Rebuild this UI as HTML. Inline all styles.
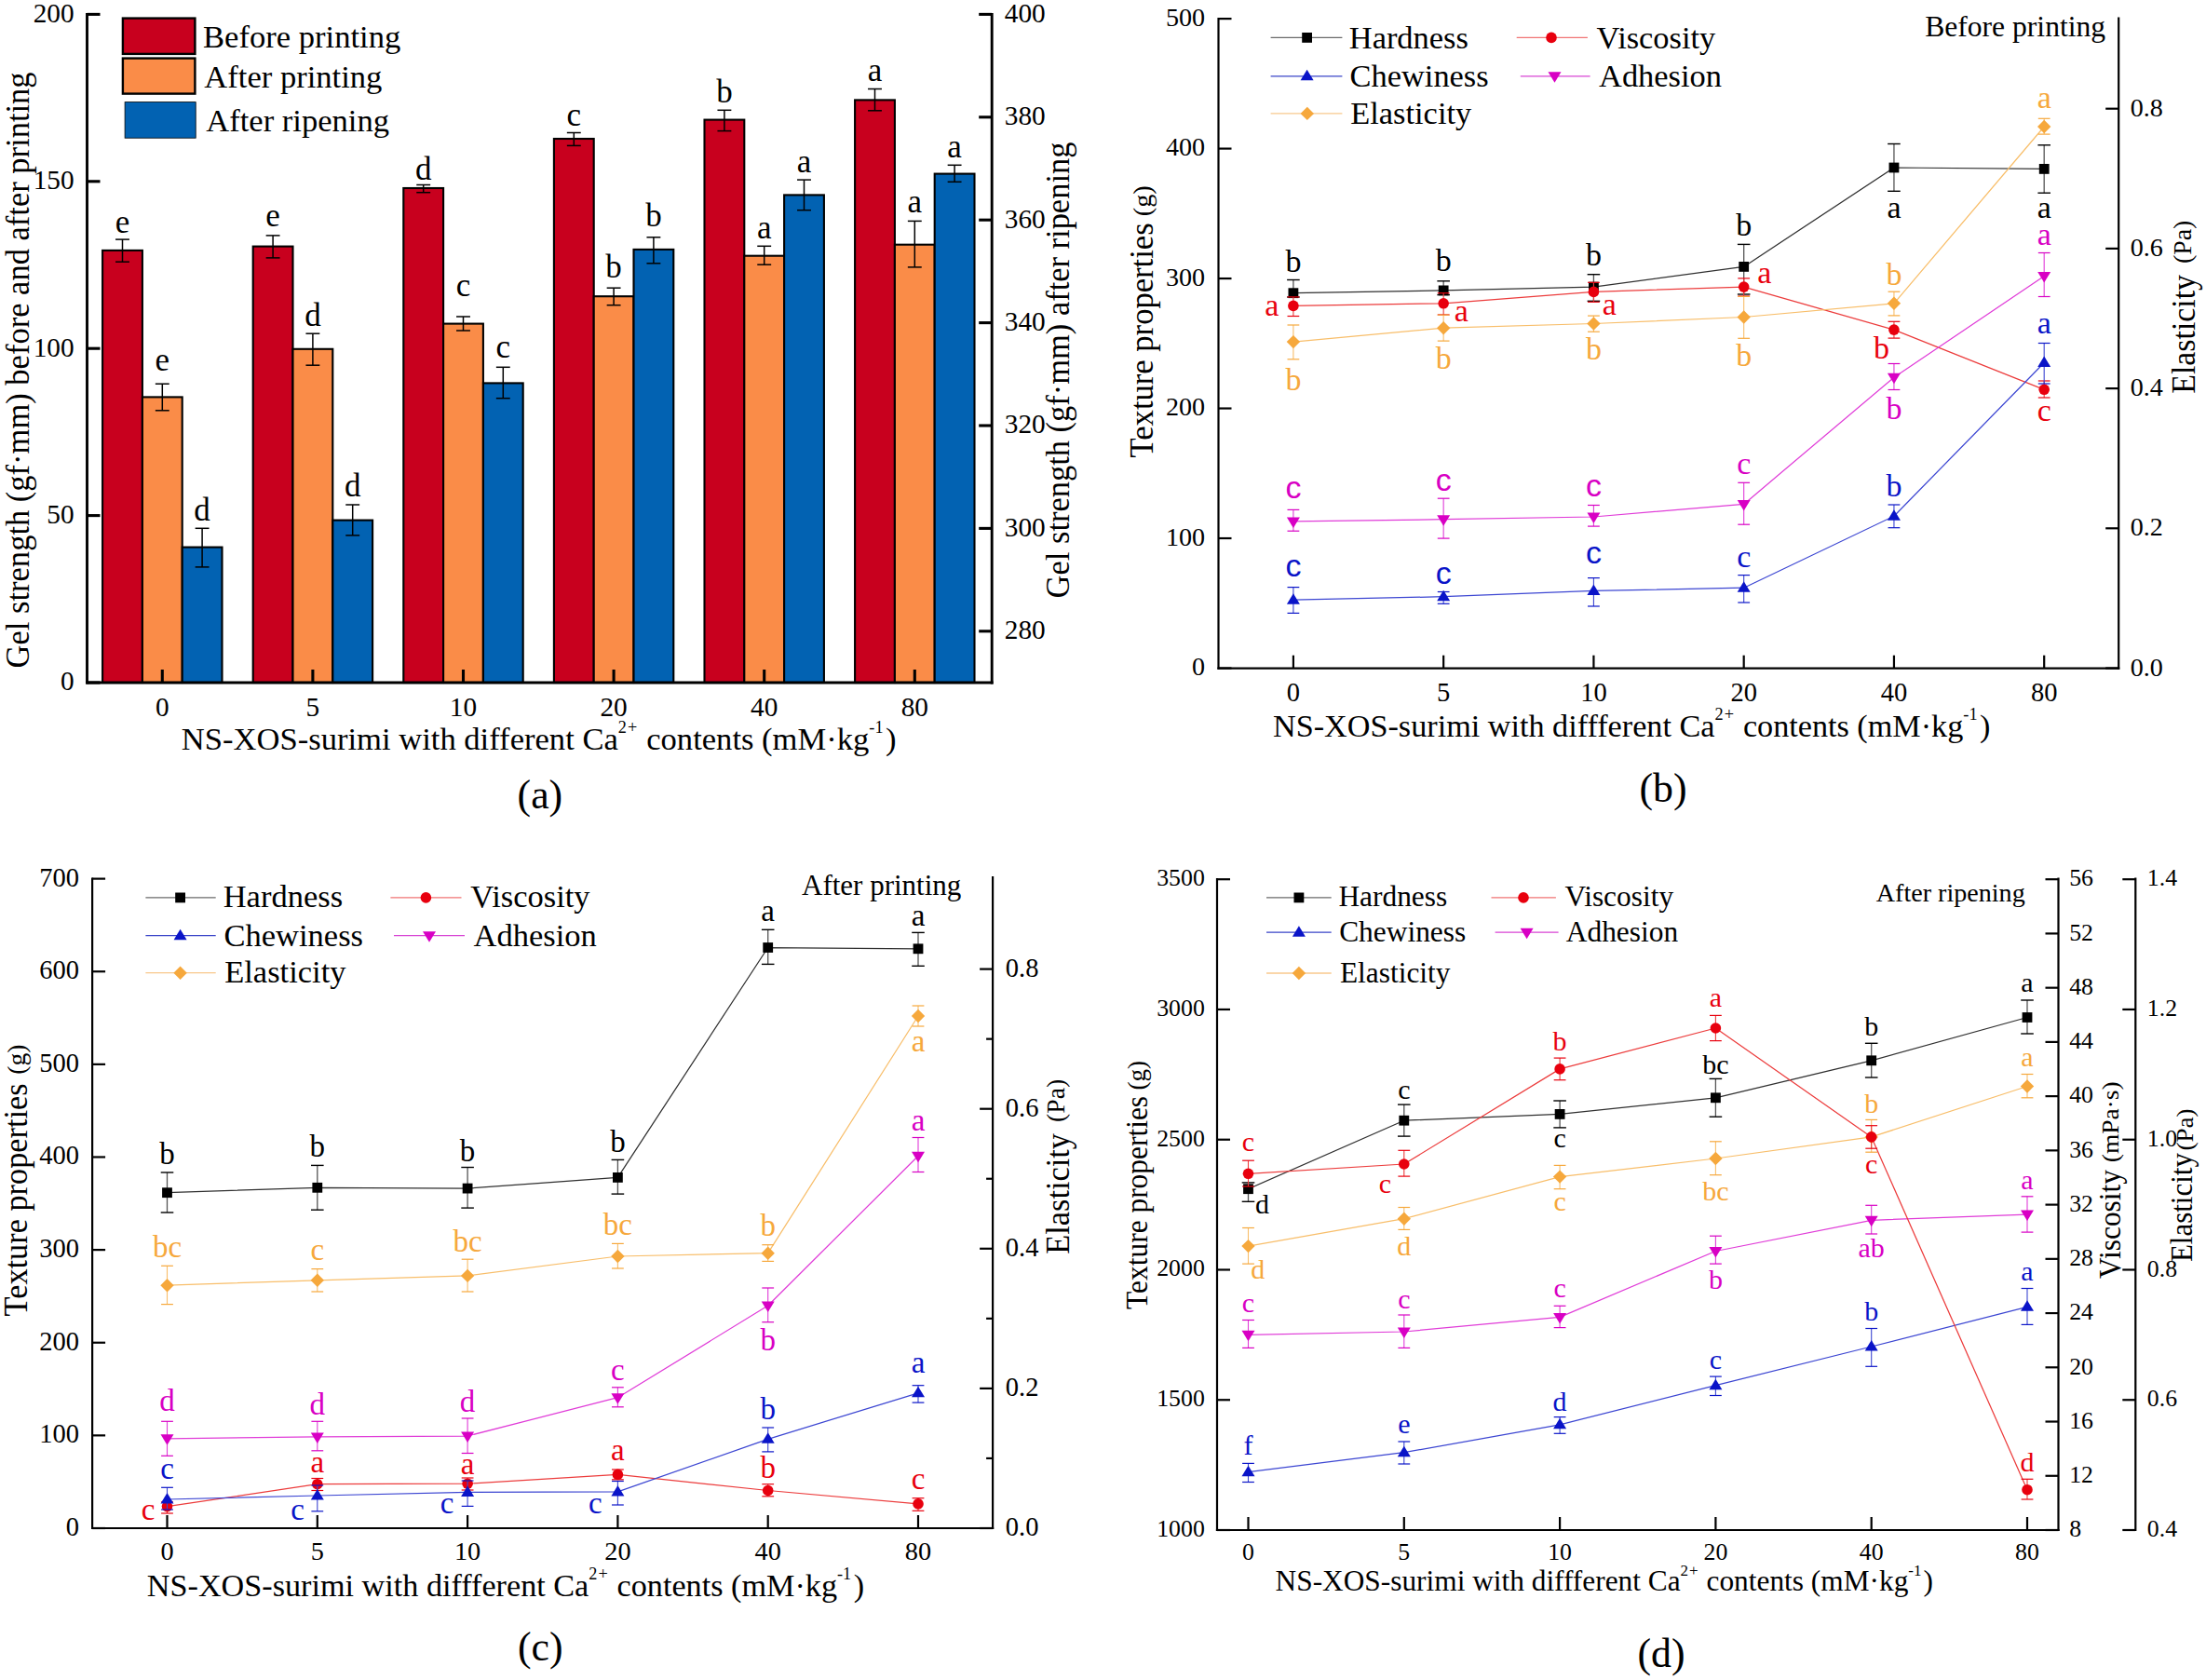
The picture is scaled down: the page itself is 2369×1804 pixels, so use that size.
<!DOCTYPE html>
<html><head><meta charset="utf-8"><title>Figure</title>
<style>html,body{margin:0;padding:0;background:#fff;overflow:hidden;} svg{display:block;}</style></head>
<body><svg xmlns="http://www.w3.org/2000/svg" width="2369" height="1804" viewBox="0 0 2369 1804">
<rect width="2369" height="1804" fill="#fff"/>
<rect x="110.1" y="268.9" width="42.8" height="464.1" fill="#C8001E" stroke="#000" stroke-width="2.1"/>
<rect x="152.9" y="426.4" width="42.8" height="306.6" fill="#FA8C48" stroke="#000" stroke-width="2.1"/>
<rect x="195.7" y="587.6" width="42.8" height="145.4" fill="#0262B2" stroke="#000" stroke-width="2.1"/>
<rect x="271.7" y="264.6" width="42.8" height="468.4" fill="#C8001E" stroke="#000" stroke-width="2.1"/>
<rect x="314.5" y="374.8" width="42.8" height="358.2" fill="#FA8C48" stroke="#000" stroke-width="2.1"/>
<rect x="357.3" y="558.6" width="42.8" height="174.4" fill="#0262B2" stroke="#000" stroke-width="2.1"/>
<rect x="433.3" y="202" width="42.8" height="531" fill="#C8001E" stroke="#000" stroke-width="2.1"/>
<rect x="476.1" y="347.6" width="42.8" height="385.4" fill="#FA8C48" stroke="#000" stroke-width="2.1"/>
<rect x="518.9" y="411.4" width="42.8" height="321.6" fill="#0262B2" stroke="#000" stroke-width="2.1"/>
<rect x="594.9" y="149" width="42.8" height="584" fill="#C8001E" stroke="#000" stroke-width="2.1"/>
<rect x="637.7" y="318.2" width="42.8" height="414.8" fill="#FA8C48" stroke="#000" stroke-width="2.1"/>
<rect x="680.5" y="267.9" width="42.8" height="465.1" fill="#0262B2" stroke="#000" stroke-width="2.1"/>
<rect x="756.5" y="128.6" width="42.8" height="604.4" fill="#C8001E" stroke="#000" stroke-width="2.1"/>
<rect x="799.3" y="274.7" width="42.8" height="458.3" fill="#FA8C48" stroke="#000" stroke-width="2.1"/>
<rect x="842.1" y="209.4" width="42.8" height="523.6" fill="#0262B2" stroke="#000" stroke-width="2.1"/>
<rect x="918.1" y="107.4" width="42.8" height="625.6" fill="#C8001E" stroke="#000" stroke-width="2.1"/>
<rect x="960.9" y="262.7" width="42.8" height="470.3" fill="#FA8C48" stroke="#000" stroke-width="2.1"/>
<rect x="1003.7" y="186.6" width="42.8" height="546.4" fill="#0262B2" stroke="#000" stroke-width="2.1"/>
<line x1="131.5" y1="257.1" x2="131.5" y2="281.2" stroke="#000" stroke-width="1.5"/>
<line x1="124.05" y1="257.1" x2="138.95" y2="257.1" stroke="#000" stroke-width="1.5"/>
<line x1="124.05" y1="281.2" x2="138.95" y2="281.2" stroke="#000" stroke-width="1.5"/>
<text x="131.5" y="250.1" font-size="35" text-anchor="middle" fill="#000" font-family="Liberation Serif">e</text>
<line x1="174.3" y1="412.2" x2="174.3" y2="440.8" stroke="#000" stroke-width="1.5"/>
<line x1="166.85" y1="412.2" x2="181.75" y2="412.2" stroke="#000" stroke-width="1.5"/>
<line x1="166.85" y1="440.8" x2="181.75" y2="440.8" stroke="#000" stroke-width="1.5"/>
<text x="174.3" y="397.6" font-size="35" text-anchor="middle" fill="#000" font-family="Liberation Serif">e</text>
<line x1="217.1" y1="567.3" x2="217.1" y2="608.9" stroke="#000" stroke-width="1.5"/>
<line x1="209.65" y1="567.3" x2="224.55" y2="567.3" stroke="#000" stroke-width="1.5"/>
<line x1="209.65" y1="608.9" x2="224.55" y2="608.9" stroke="#000" stroke-width="1.5"/>
<text x="217.1" y="559.1" font-size="35" text-anchor="middle" fill="#000" font-family="Liberation Serif">d</text>
<line x1="174.3" y1="733" x2="174.3" y2="719" stroke="#000" stroke-width="3.1"/>
<text x="174.3" y="768.6" font-size="29.3" text-anchor="middle" fill="#000" font-family="Liberation Serif">0</text>
<line x1="293.1" y1="252.9" x2="293.1" y2="276.9" stroke="#000" stroke-width="1.5"/>
<line x1="285.65" y1="252.9" x2="300.55" y2="252.9" stroke="#000" stroke-width="1.5"/>
<line x1="285.65" y1="276.9" x2="300.55" y2="276.9" stroke="#000" stroke-width="1.5"/>
<text x="293.1" y="242.9" font-size="35" text-anchor="middle" fill="#000" font-family="Liberation Serif">e</text>
<line x1="335.9" y1="358.2" x2="335.9" y2="392.2" stroke="#000" stroke-width="1.5"/>
<line x1="328.45" y1="358.2" x2="343.35" y2="358.2" stroke="#000" stroke-width="1.5"/>
<line x1="328.45" y1="392.2" x2="343.35" y2="392.2" stroke="#000" stroke-width="1.5"/>
<text x="335.9" y="350.3" font-size="35" text-anchor="middle" fill="#000" font-family="Liberation Serif">d</text>
<line x1="378.7" y1="542" x2="378.7" y2="574.9" stroke="#000" stroke-width="1.5"/>
<line x1="371.25" y1="542" x2="386.15" y2="542" stroke="#000" stroke-width="1.5"/>
<line x1="371.25" y1="574.9" x2="386.15" y2="574.9" stroke="#000" stroke-width="1.5"/>
<text x="378.7" y="532.7" font-size="35" text-anchor="middle" fill="#000" font-family="Liberation Serif">d</text>
<line x1="335.9" y1="733" x2="335.9" y2="719" stroke="#000" stroke-width="3.1"/>
<text x="335.9" y="768.6" font-size="29.3" text-anchor="middle" fill="#000" font-family="Liberation Serif">5</text>
<line x1="454.7" y1="198.5" x2="454.7" y2="206.7" stroke="#000" stroke-width="1.5"/>
<line x1="447.25" y1="198.5" x2="462.15" y2="198.5" stroke="#000" stroke-width="1.5"/>
<line x1="447.25" y1="206.7" x2="462.15" y2="206.7" stroke="#000" stroke-width="1.5"/>
<text x="454.7" y="192.5" font-size="35" text-anchor="middle" fill="#000" font-family="Liberation Serif">d</text>
<line x1="497.5" y1="340" x2="497.5" y2="355" stroke="#000" stroke-width="1.5"/>
<line x1="490.05" y1="340" x2="504.95" y2="340" stroke="#000" stroke-width="1.5"/>
<line x1="490.05" y1="355" x2="504.95" y2="355" stroke="#000" stroke-width="1.5"/>
<text x="497.5" y="318.2" font-size="35" text-anchor="middle" fill="#000" font-family="Liberation Serif">c</text>
<line x1="540.3" y1="394.3" x2="540.3" y2="427.7" stroke="#000" stroke-width="1.5"/>
<line x1="532.85" y1="394.3" x2="547.75" y2="394.3" stroke="#000" stroke-width="1.5"/>
<line x1="532.85" y1="427.7" x2="547.75" y2="427.7" stroke="#000" stroke-width="1.5"/>
<text x="540.3" y="383.5" font-size="35" text-anchor="middle" fill="#000" font-family="Liberation Serif">c</text>
<line x1="497.5" y1="733" x2="497.5" y2="719" stroke="#000" stroke-width="3.1"/>
<text x="497.5" y="768.6" font-size="29.3" text-anchor="middle" fill="#000" font-family="Liberation Serif">10</text>
<line x1="616.3" y1="142.5" x2="616.3" y2="156.4" stroke="#000" stroke-width="1.5"/>
<line x1="608.85" y1="142.5" x2="623.75" y2="142.5" stroke="#000" stroke-width="1.5"/>
<line x1="608.85" y1="156.4" x2="623.75" y2="156.4" stroke="#000" stroke-width="1.5"/>
<text x="616.3" y="134.6" font-size="35" text-anchor="middle" fill="#000" font-family="Liberation Serif">c</text>
<line x1="659.1" y1="309.2" x2="659.1" y2="327.7" stroke="#000" stroke-width="1.5"/>
<line x1="651.65" y1="309.2" x2="666.55" y2="309.2" stroke="#000" stroke-width="1.5"/>
<line x1="651.65" y1="327.7" x2="666.55" y2="327.7" stroke="#000" stroke-width="1.5"/>
<text x="659.1" y="297.8" font-size="35" text-anchor="middle" fill="#000" font-family="Liberation Serif">b</text>
<line x1="701.9" y1="254.8" x2="701.9" y2="282.8" stroke="#000" stroke-width="1.5"/>
<line x1="694.45" y1="254.8" x2="709.35" y2="254.8" stroke="#000" stroke-width="1.5"/>
<line x1="694.45" y1="282.8" x2="709.35" y2="282.8" stroke="#000" stroke-width="1.5"/>
<text x="701.9" y="243.4" font-size="35" text-anchor="middle" fill="#000" font-family="Liberation Serif">b</text>
<line x1="659.1" y1="733" x2="659.1" y2="719" stroke="#000" stroke-width="3.1"/>
<text x="659.1" y="768.6" font-size="29.3" text-anchor="middle" fill="#000" font-family="Liberation Serif">20</text>
<line x1="777.9" y1="118.3" x2="777.9" y2="140.6" stroke="#000" stroke-width="1.5"/>
<line x1="770.45" y1="118.3" x2="785.35" y2="118.3" stroke="#000" stroke-width="1.5"/>
<line x1="770.45" y1="140.6" x2="785.35" y2="140.6" stroke="#000" stroke-width="1.5"/>
<text x="777.9" y="110.1" font-size="35" text-anchor="middle" fill="#000" font-family="Liberation Serif">b</text>
<line x1="820.7" y1="264.3" x2="820.7" y2="284.2" stroke="#000" stroke-width="1.5"/>
<line x1="813.25" y1="264.3" x2="828.15" y2="264.3" stroke="#000" stroke-width="1.5"/>
<line x1="813.25" y1="284.2" x2="828.15" y2="284.2" stroke="#000" stroke-width="1.5"/>
<text x="820.7" y="255.6" font-size="35" text-anchor="middle" fill="#000" font-family="Liberation Serif">a</text>
<line x1="863.5" y1="193.1" x2="863.5" y2="225.7" stroke="#000" stroke-width="1.5"/>
<line x1="856.05" y1="193.1" x2="870.95" y2="193.1" stroke="#000" stroke-width="1.5"/>
<line x1="856.05" y1="225.7" x2="870.95" y2="225.7" stroke="#000" stroke-width="1.5"/>
<text x="863.5" y="184.9" font-size="35" text-anchor="middle" fill="#000" font-family="Liberation Serif">a</text>
<line x1="820.7" y1="733" x2="820.7" y2="719" stroke="#000" stroke-width="3.1"/>
<text x="820.7" y="768.6" font-size="29.3" text-anchor="middle" fill="#000" font-family="Liberation Serif">40</text>
<line x1="939.5" y1="95.5" x2="939.5" y2="118.8" stroke="#000" stroke-width="1.5"/>
<line x1="932.05" y1="95.5" x2="946.95" y2="95.5" stroke="#000" stroke-width="1.5"/>
<line x1="932.05" y1="118.8" x2="946.95" y2="118.8" stroke="#000" stroke-width="1.5"/>
<text x="939.5" y="87" font-size="35" text-anchor="middle" fill="#000" font-family="Liberation Serif">a</text>
<line x1="982.3" y1="237.4" x2="982.3" y2="286.9" stroke="#000" stroke-width="1.5"/>
<line x1="974.85" y1="237.4" x2="989.75" y2="237.4" stroke="#000" stroke-width="1.5"/>
<line x1="974.85" y1="286.9" x2="989.75" y2="286.9" stroke="#000" stroke-width="1.5"/>
<text x="982.3" y="227.9" font-size="35" text-anchor="middle" fill="#000" font-family="Liberation Serif">a</text>
<line x1="1025.1" y1="177.3" x2="1025.1" y2="195.3" stroke="#000" stroke-width="1.5"/>
<line x1="1017.65" y1="177.3" x2="1032.55" y2="177.3" stroke="#000" stroke-width="1.5"/>
<line x1="1017.65" y1="195.3" x2="1032.55" y2="195.3" stroke="#000" stroke-width="1.5"/>
<text x="1025.1" y="168.6" font-size="35" text-anchor="middle" fill="#000" font-family="Liberation Serif">a</text>
<line x1="982.3" y1="733" x2="982.3" y2="719" stroke="#000" stroke-width="3.1"/>
<text x="982.3" y="768.6" font-size="29.3" text-anchor="middle" fill="#000" font-family="Liberation Serif">80</text>
<line x1="93.5" y1="14" x2="93.5" y2="734.5" stroke="#000" stroke-width="2.9"/>
<line x1="1065.2" y1="14" x2="1065.2" y2="734.5" stroke="#000" stroke-width="2.9"/>
<line x1="92.1" y1="733" x2="1066.6" y2="733" stroke="#000" stroke-width="2.8"/>
<line x1="93.5" y1="733" x2="107.5" y2="733" stroke="#000" stroke-width="3.1"/>
<text x="79.6" y="741.3" font-size="29.3" text-anchor="end" fill="#000" font-family="Liberation Serif">0</text>
<line x1="93.5" y1="553.6" x2="107.5" y2="553.6" stroke="#000" stroke-width="3.1"/>
<text x="79.6" y="561.9" font-size="29.3" text-anchor="end" fill="#000" font-family="Liberation Serif">50</text>
<line x1="93.5" y1="374.2" x2="107.5" y2="374.2" stroke="#000" stroke-width="3.1"/>
<text x="79.6" y="382.5" font-size="29.3" text-anchor="end" fill="#000" font-family="Liberation Serif">100</text>
<line x1="93.5" y1="194.8" x2="107.5" y2="194.8" stroke="#000" stroke-width="3.1"/>
<text x="79.6" y="203.1" font-size="29.3" text-anchor="end" fill="#000" font-family="Liberation Serif">150</text>
<line x1="93.5" y1="15.4" x2="107.5" y2="15.4" stroke="#000" stroke-width="3.1"/>
<text x="79.6" y="23.7" font-size="29.3" text-anchor="end" fill="#000" font-family="Liberation Serif">200</text>
<line x1="1051.2" y1="677.8" x2="1065.2" y2="677.8" stroke="#000" stroke-width="3.1"/>
<text x="1078.8" y="686.1" font-size="29.3" text-anchor="start" fill="#000" font-family="Liberation Serif">280</text>
<line x1="1051.2" y1="567.4" x2="1065.2" y2="567.4" stroke="#000" stroke-width="3.1"/>
<text x="1078.8" y="575.7" font-size="29.3" text-anchor="start" fill="#000" font-family="Liberation Serif">300</text>
<line x1="1051.2" y1="457" x2="1065.2" y2="457" stroke="#000" stroke-width="3.1"/>
<text x="1078.8" y="465.3" font-size="29.3" text-anchor="start" fill="#000" font-family="Liberation Serif">320</text>
<line x1="1051.2" y1="346.6" x2="1065.2" y2="346.6" stroke="#000" stroke-width="3.1"/>
<text x="1078.8" y="354.9" font-size="29.3" text-anchor="start" fill="#000" font-family="Liberation Serif">340</text>
<line x1="1051.2" y1="236.2" x2="1065.2" y2="236.2" stroke="#000" stroke-width="3.1"/>
<text x="1078.8" y="244.5" font-size="29.3" text-anchor="start" fill="#000" font-family="Liberation Serif">360</text>
<line x1="1051.2" y1="125.8" x2="1065.2" y2="125.8" stroke="#000" stroke-width="3.1"/>
<text x="1078.8" y="134.1" font-size="29.3" text-anchor="start" fill="#000" font-family="Liberation Serif">380</text>
<line x1="1051.2" y1="15.4" x2="1065.2" y2="15.4" stroke="#000" stroke-width="3.1"/>
<text x="1078.8" y="23.7" font-size="29.3" text-anchor="start" fill="#000" font-family="Liberation Serif">400</text>
<rect x="131.9" y="19.6" width="77.5" height="38.3" fill="#C8001E" stroke="#000" stroke-width="2.4"/>
<rect x="131.9" y="62.6" width="77.5" height="38" fill="#FA8C48" stroke="#000" stroke-width="2.4"/>
<rect x="134.1" y="109.6" width="76.1" height="38.6" fill="#0262B2" stroke="#000" stroke-width="0.8"/>
<text x="218" y="51.1" font-size="34.6" text-anchor="start" fill="#000" font-family="Liberation Serif">Before printing</text>
<text x="219.3" y="93.8" font-size="34.6" text-anchor="start" fill="#000" font-family="Liberation Serif">After printing</text>
<text x="221.2" y="140.9" font-size="34.6" text-anchor="start" fill="#000" font-family="Liberation Serif">After ripening</text>
<text transform="translate(30.5,717.38) rotate(-90) scale(0.9721,1)" x="0" y="0" font-family="Liberation Serif" font-size="35.5" fill="#000">Gel strength (gf·mm) before and after printing</text>
<text transform="translate(1147.8,642.38) rotate(-90) scale(0.9710,1)" x="0" y="0" font-family="Liberation Serif" font-size="35.5" fill="#000">Gel strength (gf·mm) after ripening</text>
<text x="194.8" y="804.8" font-size="34.6" fill="#000" font-family="Liberation Serif">NS-XOS-surimi with different Ca<tspan font-size="18.2" dy="-17.5" letter-spacing="1.2">2+</tspan><tspan dy="17.5"> contents (mM·kg</tspan><tspan font-size="18.2" dy="-17.5">-1</tspan><tspan dy="17.5" dx="2.5">)</tspan></text>
<text x="579.9" y="867.8" font-size="43.8" text-anchor="middle" fill="#000" font-family="Liberation Serif">(a)</text>
<polyline points="1388.9,314.7 1550.16,311.9 1711.42,308.1 1872.68,286.4 2033.94,180 2195.2,181.4" fill="none" stroke="#303030" stroke-width="1.25" stroke-linejoin="round"/>
<line x1="1388.9" y1="300.5" x2="1388.9" y2="319" stroke="#555" stroke-width="1.3"/>
<line x1="1382.1" y1="300.5" x2="1395.7" y2="300.5" stroke="#000" stroke-width="1.4"/>
<line x1="1382.1" y1="319" x2="1395.7" y2="319" stroke="#000" stroke-width="1.4"/>
<line x1="1550.16" y1="301.8" x2="1550.16" y2="316.6" stroke="#555" stroke-width="1.3"/>
<line x1="1543.36" y1="301.8" x2="1556.96" y2="301.8" stroke="#000" stroke-width="1.4"/>
<line x1="1543.36" y1="316.6" x2="1556.96" y2="316.6" stroke="#000" stroke-width="1.4"/>
<line x1="1711.42" y1="294.7" x2="1711.42" y2="323.3" stroke="#555" stroke-width="1.3"/>
<line x1="1704.62" y1="294.7" x2="1718.22" y2="294.7" stroke="#000" stroke-width="1.4"/>
<line x1="1704.62" y1="323.3" x2="1718.22" y2="323.3" stroke="#000" stroke-width="1.4"/>
<line x1="1872.68" y1="262.4" x2="1872.68" y2="316" stroke="#555" stroke-width="1.3"/>
<line x1="1865.88" y1="262.4" x2="1879.48" y2="262.4" stroke="#000" stroke-width="1.4"/>
<line x1="1865.88" y1="316" x2="1879.48" y2="316" stroke="#000" stroke-width="1.4"/>
<line x1="2033.94" y1="154.5" x2="2033.94" y2="205.3" stroke="#555" stroke-width="1.3"/>
<line x1="2027.14" y1="154.5" x2="2040.74" y2="154.5" stroke="#000" stroke-width="1.4"/>
<line x1="2027.14" y1="205.3" x2="2040.74" y2="205.3" stroke="#000" stroke-width="1.4"/>
<line x1="2195.2" y1="155.8" x2="2195.2" y2="207.2" stroke="#555" stroke-width="1.3"/>
<line x1="2188.4" y1="155.8" x2="2202" y2="155.8" stroke="#000" stroke-width="1.4"/>
<line x1="2188.4" y1="207.2" x2="2202" y2="207.2" stroke="#000" stroke-width="1.4"/>
<rect x="1383.5" y="309.3" width="10.8" height="10.8" fill="#000000"/>
<rect x="1544.76" y="306.5" width="10.8" height="10.8" fill="#000000"/>
<rect x="1706.02" y="302.7" width="10.8" height="10.8" fill="#000000"/>
<rect x="1867.28" y="281" width="10.8" height="10.8" fill="#000000"/>
<rect x="2028.54" y="174.6" width="10.8" height="10.8" fill="#000000"/>
<rect x="2189.8" y="176" width="10.8" height="10.8" fill="#000000"/>
<polyline points="1388.9,328.4 1550.16,325.8 1711.42,313.4 1872.68,308.1 2033.94,354.1 2195.2,418.3" fill="none" stroke="#EC3C3C" stroke-width="1.25" stroke-linejoin="round"/>
<line x1="1388.9" y1="318.9" x2="1388.9" y2="339.5" stroke="#EC3C3C" stroke-width="1.1"/>
<line x1="1382.5" y1="318.9" x2="1395.3" y2="318.9" stroke="#E8000E" stroke-width="1.2"/>
<line x1="1382.5" y1="339.5" x2="1395.3" y2="339.5" stroke="#E8000E" stroke-width="1.2"/>
<line x1="1550.16" y1="314.7" x2="1550.16" y2="338" stroke="#EC3C3C" stroke-width="1.1"/>
<line x1="1543.76" y1="314.7" x2="1556.56" y2="314.7" stroke="#E8000E" stroke-width="1.2"/>
<line x1="1543.76" y1="338" x2="1556.56" y2="338" stroke="#E8000E" stroke-width="1.2"/>
<line x1="1711.42" y1="303.3" x2="1711.42" y2="324.3" stroke="#EC3C3C" stroke-width="1.1"/>
<line x1="1705.02" y1="303.3" x2="1717.82" y2="303.3" stroke="#E8000E" stroke-width="1.2"/>
<line x1="1705.02" y1="324.3" x2="1717.82" y2="324.3" stroke="#E8000E" stroke-width="1.2"/>
<line x1="1872.68" y1="298.9" x2="1872.68" y2="318" stroke="#EC3C3C" stroke-width="1.1"/>
<line x1="1866.28" y1="298.9" x2="1879.08" y2="298.9" stroke="#E8000E" stroke-width="1.2"/>
<line x1="1866.28" y1="318" x2="1879.08" y2="318" stroke="#E8000E" stroke-width="1.2"/>
<line x1="2033.94" y1="345.3" x2="2033.94" y2="363.1" stroke="#EC3C3C" stroke-width="1.1"/>
<line x1="2027.54" y1="345.3" x2="2040.34" y2="345.3" stroke="#E8000E" stroke-width="1.2"/>
<line x1="2027.54" y1="363.1" x2="2040.34" y2="363.1" stroke="#E8000E" stroke-width="1.2"/>
<line x1="2195.2" y1="409" x2="2195.2" y2="427" stroke="#EC3C3C" stroke-width="1.1"/>
<line x1="2188.8" y1="409" x2="2201.6" y2="409" stroke="#E8000E" stroke-width="1.2"/>
<line x1="2188.8" y1="427" x2="2201.6" y2="427" stroke="#E8000E" stroke-width="1.2"/>
<circle cx="1388.9" cy="328.4" r="5.8" fill="#E8000E"/>
<circle cx="1550.16" cy="325.8" r="5.8" fill="#E8000E"/>
<circle cx="1711.42" cy="313.4" r="5.8" fill="#E8000E"/>
<circle cx="1872.68" cy="308.1" r="5.8" fill="#E8000E"/>
<circle cx="2033.94" cy="354.1" r="5.8" fill="#E8000E"/>
<circle cx="2195.2" cy="418.3" r="5.8" fill="#E8000E"/>
<polyline points="1388.9,644.2 1550.16,640.7 1711.42,634.4 1872.68,631.2 2033.94,554.2 2195.2,389.5" fill="none" stroke="#3C46D2" stroke-width="1.25" stroke-linejoin="round"/>
<line x1="1388.9" y1="630.6" x2="1388.9" y2="658.4" stroke="#3C46D2" stroke-width="1.1"/>
<line x1="1382.5" y1="630.6" x2="1395.3" y2="630.6" stroke="#0A14C8" stroke-width="1.2"/>
<line x1="1382.5" y1="658.4" x2="1395.3" y2="658.4" stroke="#0A14C8" stroke-width="1.2"/>
<line x1="1550.16" y1="635.5" x2="1550.16" y2="648.3" stroke="#3C46D2" stroke-width="1.1"/>
<line x1="1543.76" y1="635.5" x2="1556.56" y2="635.5" stroke="#0A14C8" stroke-width="1.2"/>
<line x1="1543.76" y1="648.3" x2="1556.56" y2="648.3" stroke="#0A14C8" stroke-width="1.2"/>
<line x1="1711.42" y1="620.6" x2="1711.42" y2="651" stroke="#3C46D2" stroke-width="1.1"/>
<line x1="1705.02" y1="620.6" x2="1717.82" y2="620.6" stroke="#0A14C8" stroke-width="1.2"/>
<line x1="1705.02" y1="651" x2="1717.82" y2="651" stroke="#0A14C8" stroke-width="1.2"/>
<line x1="1872.68" y1="617.6" x2="1872.68" y2="647" stroke="#3C46D2" stroke-width="1.1"/>
<line x1="1866.28" y1="617.6" x2="1879.08" y2="617.6" stroke="#0A14C8" stroke-width="1.2"/>
<line x1="1866.28" y1="647" x2="1879.08" y2="647" stroke="#0A14C8" stroke-width="1.2"/>
<line x1="2033.94" y1="542" x2="2033.94" y2="566.7" stroke="#3C46D2" stroke-width="1.1"/>
<line x1="2027.54" y1="542" x2="2040.34" y2="542" stroke="#0A14C8" stroke-width="1.2"/>
<line x1="2027.54" y1="566.7" x2="2040.34" y2="566.7" stroke="#0A14C8" stroke-width="1.2"/>
<line x1="2195.2" y1="368.5" x2="2195.2" y2="412" stroke="#3C46D2" stroke-width="1.1"/>
<line x1="2188.8" y1="368.5" x2="2201.6" y2="368.5" stroke="#0A14C8" stroke-width="1.2"/>
<line x1="2188.8" y1="412" x2="2201.6" y2="412" stroke="#0A14C8" stroke-width="1.2"/>
<polygon points="1381.9,648.68 1395.9,648.68 1388.9,637.2" fill="#0A14C8"/>
<polygon points="1543.16,645.18 1557.16,645.18 1550.16,633.7" fill="#0A14C8"/>
<polygon points="1704.42,638.88 1718.42,638.88 1711.42,627.4" fill="#0A14C8"/>
<polygon points="1865.68,635.68 1879.68,635.68 1872.68,624.2" fill="#0A14C8"/>
<polygon points="2026.94,558.68 2040.94,558.68 2033.94,547.2" fill="#0A14C8"/>
<polygon points="2188.2,393.98 2202.2,393.98 2195.2,382.5" fill="#0A14C8"/>
<polyline points="1388.9,559.9 1550.16,557.7 1711.42,555 1872.68,541.4 2033.94,405.2 2195.2,296.4" fill="none" stroke="#E03CD8" stroke-width="1.25" stroke-linejoin="round"/>
<line x1="1388.9" y1="547.4" x2="1388.9" y2="570.2" stroke="#E03CD8" stroke-width="1.1"/>
<line x1="1382.5" y1="547.4" x2="1395.3" y2="547.4" stroke="#D800C4" stroke-width="1.2"/>
<line x1="1382.5" y1="570.2" x2="1395.3" y2="570.2" stroke="#D800C4" stroke-width="1.2"/>
<line x1="1550.16" y1="535.2" x2="1550.16" y2="578.1" stroke="#E03CD8" stroke-width="1.1"/>
<line x1="1543.76" y1="535.2" x2="1556.56" y2="535.2" stroke="#D800C4" stroke-width="1.2"/>
<line x1="1543.76" y1="578.1" x2="1556.56" y2="578.1" stroke="#D800C4" stroke-width="1.2"/>
<line x1="1711.42" y1="542.5" x2="1711.42" y2="565.1" stroke="#E03CD8" stroke-width="1.1"/>
<line x1="1705.02" y1="542.5" x2="1717.82" y2="542.5" stroke="#D800C4" stroke-width="1.2"/>
<line x1="1705.02" y1="565.1" x2="1717.82" y2="565.1" stroke="#D800C4" stroke-width="1.2"/>
<line x1="1872.68" y1="518.3" x2="1872.68" y2="563.2" stroke="#E03CD8" stroke-width="1.1"/>
<line x1="1866.28" y1="518.3" x2="1879.08" y2="518.3" stroke="#D800C4" stroke-width="1.2"/>
<line x1="1866.28" y1="563.2" x2="1879.08" y2="563.2" stroke="#D800C4" stroke-width="1.2"/>
<line x1="2033.94" y1="390.5" x2="2033.94" y2="418.5" stroke="#E03CD8" stroke-width="1.1"/>
<line x1="2027.54" y1="390.5" x2="2040.34" y2="390.5" stroke="#D800C4" stroke-width="1.2"/>
<line x1="2027.54" y1="418.5" x2="2040.34" y2="418.5" stroke="#D800C4" stroke-width="1.2"/>
<line x1="2195.2" y1="271.5" x2="2195.2" y2="318.5" stroke="#E03CD8" stroke-width="1.1"/>
<line x1="2188.8" y1="271.5" x2="2201.6" y2="271.5" stroke="#D800C4" stroke-width="1.2"/>
<line x1="2188.8" y1="318.5" x2="2201.6" y2="318.5" stroke="#D800C4" stroke-width="1.2"/>
<polygon points="1381.9,555.42 1395.9,555.42 1388.9,566.9" fill="#D800C4"/>
<polygon points="1543.16,553.22 1557.16,553.22 1550.16,564.7" fill="#D800C4"/>
<polygon points="1704.42,550.52 1718.42,550.52 1711.42,562" fill="#D800C4"/>
<polygon points="1865.68,536.92 1879.68,536.92 1872.68,548.4" fill="#D800C4"/>
<polygon points="2026.94,400.72 2040.94,400.72 2033.94,412.2" fill="#D800C4"/>
<polygon points="2188.2,291.92 2202.2,291.92 2195.2,303.4" fill="#D800C4"/>
<polyline points="1388.9,367.1 1550.16,352.2 1711.42,347.5 1872.68,340.5 2033.94,325.8 2195.2,136" fill="none" stroke="#F8BE6A" stroke-width="1.25" stroke-linejoin="round"/>
<line x1="1388.9" y1="349" x2="1388.9" y2="385.8" stroke="#F8BE6A" stroke-width="1.1"/>
<line x1="1382.5" y1="349" x2="1395.3" y2="349" stroke="#F6A83C" stroke-width="1.2"/>
<line x1="1382.5" y1="385.8" x2="1395.3" y2="385.8" stroke="#F6A83C" stroke-width="1.2"/>
<line x1="1550.16" y1="338.2" x2="1550.16" y2="366.1" stroke="#F8BE6A" stroke-width="1.1"/>
<line x1="1543.76" y1="338.2" x2="1556.56" y2="338.2" stroke="#F6A83C" stroke-width="1.2"/>
<line x1="1543.76" y1="366.1" x2="1556.56" y2="366.1" stroke="#F6A83C" stroke-width="1.2"/>
<line x1="1711.42" y1="339.1" x2="1711.42" y2="356.2" stroke="#F8BE6A" stroke-width="1.1"/>
<line x1="1705.02" y1="339.1" x2="1717.82" y2="339.1" stroke="#F6A83C" stroke-width="1.2"/>
<line x1="1705.02" y1="356.2" x2="1717.82" y2="356.2" stroke="#F6A83C" stroke-width="1.2"/>
<line x1="1872.68" y1="318.4" x2="1872.68" y2="363.3" stroke="#F8BE6A" stroke-width="1.1"/>
<line x1="1866.28" y1="318.4" x2="1879.08" y2="318.4" stroke="#F6A83C" stroke-width="1.2"/>
<line x1="1866.28" y1="363.3" x2="1879.08" y2="363.3" stroke="#F6A83C" stroke-width="1.2"/>
<line x1="2033.94" y1="313.2" x2="2033.94" y2="338.9" stroke="#F8BE6A" stroke-width="1.1"/>
<line x1="2027.54" y1="313.2" x2="2040.34" y2="313.2" stroke="#F6A83C" stroke-width="1.2"/>
<line x1="2027.54" y1="338.9" x2="2040.34" y2="338.9" stroke="#F6A83C" stroke-width="1.2"/>
<line x1="2195.2" y1="127.3" x2="2195.2" y2="144.1" stroke="#F8BE6A" stroke-width="1.1"/>
<line x1="2188.8" y1="127.3" x2="2201.6" y2="127.3" stroke="#F6A83C" stroke-width="1.2"/>
<line x1="2188.8" y1="144.1" x2="2201.6" y2="144.1" stroke="#F6A83C" stroke-width="1.2"/>
<polygon points="1388.9,359.9 1396.1,367.1 1388.9,374.3 1381.7,367.1" fill="#F6A83C"/>
<polygon points="1550.16,345 1557.36,352.2 1550.16,359.4 1542.96,352.2" fill="#F6A83C"/>
<polygon points="1711.42,340.3 1718.62,347.5 1711.42,354.7 1704.22,347.5" fill="#F6A83C"/>
<polygon points="1872.68,333.3 1879.88,340.5 1872.68,347.7 1865.48,340.5" fill="#F6A83C"/>
<polygon points="2033.94,318.6 2041.14,325.8 2033.94,333 2026.74,325.8" fill="#F6A83C"/>
<polygon points="2195.2,128.8 2202.4,136 2195.2,143.2 2188,136" fill="#F6A83C"/>
<text x="1388.9" y="418.5" font-size="34" text-anchor="middle" fill="#F6A83C" font-family="Liberation Serif">b</text>
<text x="1550.16" y="395.7" font-size="34" text-anchor="middle" fill="#F6A83C" font-family="Liberation Serif">b</text>
<text x="1711.42" y="386.1" font-size="34" text-anchor="middle" fill="#F6A83C" font-family="Liberation Serif">b</text>
<text x="1872.68" y="393" font-size="34" text-anchor="middle" fill="#F6A83C" font-family="Liberation Serif">b</text>
<text x="2033.94" y="306" font-size="34" text-anchor="middle" fill="#F6A83C" font-family="Liberation Serif">b</text>
<text x="2195.2" y="116.4" font-size="34" text-anchor="middle" fill="#F6A83C" font-family="Liberation Serif">a</text>
<text x="1388.9" y="534.6" font-size="34" text-anchor="middle" fill="#D800C4" font-family="Liberation Sans">c</text>
<text x="1550.16" y="527" font-size="34" text-anchor="middle" fill="#D800C4" font-family="Liberation Sans">c</text>
<text x="1711.42" y="533.3" font-size="34" text-anchor="middle" fill="#D800C4" font-family="Liberation Sans">c</text>
<text x="1872.68" y="508.8" font-size="34" text-anchor="middle" fill="#D800C4" font-family="Liberation Serif">c</text>
<text x="2033.94" y="450.3" font-size="34" text-anchor="middle" fill="#D800C4" font-family="Liberation Serif">b</text>
<text x="2195.2" y="263.3" font-size="34" text-anchor="middle" fill="#D800C4" font-family="Liberation Serif">a</text>
<text x="1388.9" y="618.9" font-size="34" text-anchor="middle" fill="#0A14C8" font-family="Liberation Sans">c</text>
<text x="1550.16" y="626.5" font-size="34" text-anchor="middle" fill="#0A14C8" font-family="Liberation Sans">c</text>
<text x="1711.42" y="605.3" font-size="34" text-anchor="middle" fill="#0A14C8" font-family="Liberation Sans">c</text>
<text x="1872.68" y="609.4" font-size="34" text-anchor="middle" fill="#0A14C8" font-family="Liberation Serif">c</text>
<text x="2033.94" y="532.7" font-size="34" text-anchor="middle" fill="#0A14C8" font-family="Liberation Serif">b</text>
<text x="2195.2" y="358.4" font-size="34" text-anchor="middle" fill="#0A14C8" font-family="Liberation Serif">a</text>
<text x="1365.7" y="338.5" font-size="34" text-anchor="middle" fill="#E8000E" font-family="Liberation Serif">a</text>
<text x="1569.4" y="344.6" font-size="34" text-anchor="middle" fill="#E8000E" font-family="Liberation Serif">a</text>
<text x="1728.4" y="338" font-size="34" text-anchor="middle" fill="#E8000E" font-family="Liberation Serif">a</text>
<text x="1894.9" y="304" font-size="34" text-anchor="middle" fill="#E8000E" font-family="Liberation Serif">a</text>
<text x="2020.6" y="384.8" font-size="34" text-anchor="middle" fill="#E8000E" font-family="Liberation Serif">b</text>
<text x="2195.2" y="452.2" font-size="34" text-anchor="middle" fill="#E8000E" font-family="Liberation Serif">c</text>
<text x="1388.9" y="292.3" font-size="34" text-anchor="middle" fill="#000000" font-family="Liberation Serif">b</text>
<text x="1550.16" y="291" font-size="34" text-anchor="middle" fill="#000000" font-family="Liberation Serif">b</text>
<text x="1711.42" y="284.8" font-size="34" text-anchor="middle" fill="#000000" font-family="Liberation Serif">b</text>
<text x="1872.68" y="253" font-size="34" text-anchor="middle" fill="#000000" font-family="Liberation Serif">b</text>
<text x="2033.94" y="234.4" font-size="34" text-anchor="middle" fill="#000000" font-family="Liberation Serif">a</text>
<text x="2195.2" y="234.4" font-size="34" text-anchor="middle" fill="#000000" font-family="Liberation Serif">a</text>
<line x1="1308.5" y1="19" x2="1308.5" y2="718.8" stroke="#000" stroke-width="2.2"/>
<line x1="1307.4" y1="717.7" x2="2276.3" y2="717.7" stroke="#000" stroke-width="2.2"/>
<line x1="1308.5" y1="717.5" x2="1322.5" y2="717.5" stroke="#000" stroke-width="2.2"/>
<text x="1294.1" y="725" font-size="28.1" text-anchor="end" fill="#000" font-family="Liberation Serif">0</text>
<line x1="1308.5" y1="578.02" x2="1322.5" y2="578.02" stroke="#000" stroke-width="2.2"/>
<text x="1294.1" y="585.52" font-size="28.1" text-anchor="end" fill="#000" font-family="Liberation Serif">100</text>
<line x1="1308.5" y1="438.54" x2="1322.5" y2="438.54" stroke="#000" stroke-width="2.2"/>
<text x="1294.1" y="446.04" font-size="28.1" text-anchor="end" fill="#000" font-family="Liberation Serif">200</text>
<line x1="1308.5" y1="299.06" x2="1322.5" y2="299.06" stroke="#000" stroke-width="2.2"/>
<text x="1294.1" y="306.56" font-size="28.1" text-anchor="end" fill="#000" font-family="Liberation Serif">300</text>
<line x1="1308.5" y1="159.58" x2="1322.5" y2="159.58" stroke="#000" stroke-width="2.2"/>
<text x="1294.1" y="167.08" font-size="28.1" text-anchor="end" fill="#000" font-family="Liberation Serif">400</text>
<line x1="1308.5" y1="20.1" x2="1322.5" y2="20.1" stroke="#000" stroke-width="2.2"/>
<text x="1294.1" y="27.6" font-size="28.1" text-anchor="end" fill="#000" font-family="Liberation Serif">500</text>
<line x1="1388.9" y1="717.7" x2="1388.9" y2="703.7" stroke="#000" stroke-width="2.2"/>
<text x="1388.9" y="753" font-size="28.5" text-anchor="middle" fill="#000" font-family="Liberation Serif">0</text>
<line x1="1550.16" y1="717.7" x2="1550.16" y2="703.7" stroke="#000" stroke-width="2.2"/>
<text x="1550.16" y="753" font-size="28.5" text-anchor="middle" fill="#000" font-family="Liberation Serif">5</text>
<line x1="1711.42" y1="717.7" x2="1711.42" y2="703.7" stroke="#000" stroke-width="2.2"/>
<text x="1711.42" y="753" font-size="28.5" text-anchor="middle" fill="#000" font-family="Liberation Serif">10</text>
<line x1="1872.68" y1="717.7" x2="1872.68" y2="703.7" stroke="#000" stroke-width="2.2"/>
<text x="1872.68" y="753" font-size="28.5" text-anchor="middle" fill="#000" font-family="Liberation Serif">20</text>
<line x1="2033.94" y1="717.7" x2="2033.94" y2="703.7" stroke="#000" stroke-width="2.2"/>
<text x="2033.94" y="753" font-size="28.5" text-anchor="middle" fill="#000" font-family="Liberation Serif">40</text>
<line x1="2195.2" y1="717.7" x2="2195.2" y2="703.7" stroke="#000" stroke-width="2.2"/>
<text x="2195.2" y="753" font-size="28.5" text-anchor="middle" fill="#000" font-family="Liberation Serif">80</text>
<line x1="2275.2" y1="18.5" x2="2275.2" y2="718.8" stroke="#000" stroke-width="2.2"/>
<line x1="2261.2" y1="717.5" x2="2275.2" y2="717.5" stroke="#000" stroke-width="2.2"/>
<text x="2287.8" y="725.5" font-size="28.1" text-anchor="start" fill="#000" font-family="Liberation Serif">0.0</text>
<line x1="2261.2" y1="567.3" x2="2275.2" y2="567.3" stroke="#000" stroke-width="2.2"/>
<text x="2287.8" y="575.3" font-size="28.1" text-anchor="start" fill="#000" font-family="Liberation Serif">0.2</text>
<line x1="2261.2" y1="417.1" x2="2275.2" y2="417.1" stroke="#000" stroke-width="2.2"/>
<text x="2287.8" y="425.1" font-size="28.1" text-anchor="start" fill="#000" font-family="Liberation Serif">0.4</text>
<line x1="2261.2" y1="266.9" x2="2275.2" y2="266.9" stroke="#000" stroke-width="2.2"/>
<text x="2287.8" y="274.9" font-size="28.1" text-anchor="start" fill="#000" font-family="Liberation Serif">0.6</text>
<line x1="2261.2" y1="116.7" x2="2275.2" y2="116.7" stroke="#000" stroke-width="2.2"/>
<text x="2287.8" y="124.7" font-size="28.1" text-anchor="start" fill="#000" font-family="Liberation Serif">0.8</text>
<line x1="1364.6" y1="40.4" x2="1441.4" y2="40.4" stroke="#6a6a6a" stroke-width="1.3"/>
<rect x="1398.2" y="35" width="10.8" height="10.8" fill="#000000"/>
<text x="1448.8" y="51.7" font-size="34.4" text-anchor="start" fill="#000" font-family="Liberation Serif">Hardness</text>
<line x1="1364.6" y1="81.8" x2="1441.4" y2="81.8" stroke="#3a44c8" stroke-width="1.3"/>
<polygon points="1396.6,86.28 1410.6,86.28 1403.6,74.8" fill="#0A14C8"/>
<text x="1449.6" y="93.3" font-size="34.4" text-anchor="start" fill="#000" font-family="Liberation Serif">Chewiness</text>
<line x1="1364.6" y1="121.9" x2="1441.4" y2="121.9" stroke="#F8C88C" stroke-width="1.3"/>
<polygon points="1403.8,114.7 1411,121.9 1403.8,129.1 1396.6,121.9" fill="#F6A83C"/>
<text x="1450.3" y="132.8" font-size="34.4" text-anchor="start" fill="#000" font-family="Liberation Serif">Elasticity</text>
<line x1="1628.7" y1="40.4" x2="1704.9" y2="40.4" stroke="#F07474" stroke-width="1.3"/>
<circle cx="1666" cy="40.4" r="5.8" fill="#E8000E"/>
<text x="1714.4" y="51.7" font-size="34.4" text-anchor="start" fill="#000" font-family="Liberation Serif">Viscosity</text>
<line x1="1632.8" y1="81.8" x2="1707.6" y2="81.8" stroke="#D844D4" stroke-width="1.3"/>
<polygon points="1662.5,77.32 1676.5,77.32 1669.5,88.8" fill="#D800C4"/>
<text x="1717.1" y="93.3" font-size="34.4" text-anchor="start" fill="#000" font-family="Liberation Serif">Adhesion</text>
<text x="2067.2" y="39.4" font-size="31.6" text-anchor="start" fill="#000" font-family="Liberation Serif">Before printing</text>
<text transform="translate(1237.8,491.49) rotate(-90) scale(0.9887,1)" x="0" y="0" font-family="Liberation Serif" font-size="35" fill="#000">Texture properties</text>
<text transform="translate(1236.1,232.23) rotate(-90) scale(1.0662,1)" x="0" y="0" font-family="Liberation Serif" font-size="26.4" fill="#000">(g)</text>
<text transform="translate(2356.6,422.71) rotate(-90) scale(0.9395,1)" x="0" y="0" font-family="Liberation Serif" font-size="36" fill="#000">Elasticity</text>
<text transform="translate(2353.2,283.01) rotate(-90) scale(1.0017,1)" x="0" y="0" font-family="Liberation Serif" font-size="27.8" fill="#000">(Pa)</text>
<text x="1367" y="791" font-size="34.2" fill="#000" font-family="Liberation Serif">NS-XOS-surimi with diffferent Ca<tspan font-size="18.3" dy="-17.9" letter-spacing="1.2">2+</tspan><tspan dy="17.9"> contents (mM·kg</tspan><tspan font-size="18.3" dy="-17.9">-1</tspan><tspan dy="17.9" dx="2.5">)</tspan></text>
<text x="1786" y="861.3" font-size="43.8" text-anchor="middle" fill="#000" font-family="Liberation Serif">(b)</text>
<polyline points="179.5,1280.7 340.8,1275.3 502.1,1276.1 663.4,1264.4 824.7,1017.5 986,1018.8" fill="none" stroke="#303030" stroke-width="1.25" stroke-linejoin="round"/>
<line x1="179.5" y1="1259" x2="179.5" y2="1302" stroke="#555" stroke-width="1.3"/>
<line x1="172.7" y1="1259" x2="186.3" y2="1259" stroke="#000" stroke-width="1.4"/>
<line x1="172.7" y1="1302" x2="186.3" y2="1302" stroke="#000" stroke-width="1.4"/>
<line x1="340.8" y1="1251.4" x2="340.8" y2="1299.2" stroke="#555" stroke-width="1.3"/>
<line x1="334" y1="1251.4" x2="347.6" y2="1251.4" stroke="#000" stroke-width="1.4"/>
<line x1="334" y1="1299.2" x2="347.6" y2="1299.2" stroke="#000" stroke-width="1.4"/>
<line x1="502.1" y1="1253.5" x2="502.1" y2="1297.1" stroke="#555" stroke-width="1.3"/>
<line x1="495.3" y1="1253.5" x2="508.9" y2="1253.5" stroke="#000" stroke-width="1.4"/>
<line x1="495.3" y1="1297.1" x2="508.9" y2="1297.1" stroke="#000" stroke-width="1.4"/>
<line x1="663.4" y1="1245.4" x2="663.4" y2="1282.1" stroke="#555" stroke-width="1.3"/>
<line x1="656.6" y1="1245.4" x2="670.2" y2="1245.4" stroke="#000" stroke-width="1.4"/>
<line x1="656.6" y1="1282.1" x2="670.2" y2="1282.1" stroke="#000" stroke-width="1.4"/>
<line x1="824.7" y1="998.3" x2="824.7" y2="1035.4" stroke="#555" stroke-width="1.3"/>
<line x1="817.9" y1="998.3" x2="831.5" y2="998.3" stroke="#000" stroke-width="1.4"/>
<line x1="817.9" y1="1035.4" x2="831.5" y2="1035.4" stroke="#000" stroke-width="1.4"/>
<line x1="986" y1="1001.4" x2="986" y2="1037.3" stroke="#555" stroke-width="1.3"/>
<line x1="979.2" y1="1001.4" x2="992.8" y2="1001.4" stroke="#000" stroke-width="1.4"/>
<line x1="979.2" y1="1037.3" x2="992.8" y2="1037.3" stroke="#000" stroke-width="1.4"/>
<rect x="174.1" y="1275.3" width="10.8" height="10.8" fill="#000000"/>
<rect x="335.4" y="1269.9" width="10.8" height="10.8" fill="#000000"/>
<rect x="496.7" y="1270.7" width="10.8" height="10.8" fill="#000000"/>
<rect x="658" y="1259" width="10.8" height="10.8" fill="#000000"/>
<rect x="819.3" y="1012.1" width="10.8" height="10.8" fill="#000000"/>
<rect x="980.6" y="1013.4" width="10.8" height="10.8" fill="#000000"/>
<polyline points="179.5,1617.6 340.8,1593.7 502.1,1593.2 663.4,1583.4 824.7,1600.5 986,1614.9" fill="none" stroke="#EC3C3C" stroke-width="1.25" stroke-linejoin="round"/>
<line x1="179.5" y1="1612.8" x2="179.5" y2="1625" stroke="#EC3C3C" stroke-width="1.1"/>
<line x1="173.1" y1="1612.8" x2="185.9" y2="1612.8" stroke="#E8000E" stroke-width="1.2"/>
<line x1="173.1" y1="1625" x2="185.9" y2="1625" stroke="#E8000E" stroke-width="1.2"/>
<line x1="340.8" y1="1587.5" x2="340.8" y2="1600.5" stroke="#EC3C3C" stroke-width="1.1"/>
<line x1="334.4" y1="1587.5" x2="347.2" y2="1587.5" stroke="#E8000E" stroke-width="1.2"/>
<line x1="334.4" y1="1600.5" x2="347.2" y2="1600.5" stroke="#E8000E" stroke-width="1.2"/>
<line x1="502.1" y1="1587" x2="502.1" y2="1600" stroke="#EC3C3C" stroke-width="1.1"/>
<line x1="495.7" y1="1587" x2="508.5" y2="1587" stroke="#E8000E" stroke-width="1.2"/>
<line x1="495.7" y1="1600" x2="508.5" y2="1600" stroke="#E8000E" stroke-width="1.2"/>
<line x1="663.4" y1="1578" x2="663.4" y2="1588.8" stroke="#EC3C3C" stroke-width="1.1"/>
<line x1="657" y1="1578" x2="669.8" y2="1578" stroke="#E8000E" stroke-width="1.2"/>
<line x1="657" y1="1588.8" x2="669.8" y2="1588.8" stroke="#E8000E" stroke-width="1.2"/>
<line x1="824.7" y1="1593.7" x2="824.7" y2="1606.8" stroke="#EC3C3C" stroke-width="1.1"/>
<line x1="818.3" y1="1593.7" x2="831.1" y2="1593.7" stroke="#E8000E" stroke-width="1.2"/>
<line x1="818.3" y1="1606.8" x2="831.1" y2="1606.8" stroke="#E8000E" stroke-width="1.2"/>
<line x1="986" y1="1608.7" x2="986" y2="1622.3" stroke="#EC3C3C" stroke-width="1.1"/>
<line x1="979.6" y1="1608.7" x2="992.4" y2="1608.7" stroke="#E8000E" stroke-width="1.2"/>
<line x1="979.6" y1="1622.3" x2="992.4" y2="1622.3" stroke="#E8000E" stroke-width="1.2"/>
<circle cx="179.5" cy="1617.6" r="5.8" fill="#E8000E"/>
<circle cx="340.8" cy="1593.7" r="5.8" fill="#E8000E"/>
<circle cx="502.1" cy="1593.2" r="5.8" fill="#E8000E"/>
<circle cx="663.4" cy="1583.4" r="5.8" fill="#E8000E"/>
<circle cx="824.7" cy="1600.5" r="5.8" fill="#E8000E"/>
<circle cx="986" cy="1614.9" r="5.8" fill="#E8000E"/>
<polyline points="179.5,1610 340.8,1606 502.1,1602.4 663.4,1601.9 824.7,1545.3 986,1495.8" fill="none" stroke="#3C46D2" stroke-width="1.25" stroke-linejoin="round"/>
<line x1="179.5" y1="1597.3" x2="179.5" y2="1621" stroke="#3C46D2" stroke-width="1.1"/>
<line x1="173.1" y1="1597.3" x2="185.9" y2="1597.3" stroke="#0A14C8" stroke-width="1.2"/>
<line x1="173.1" y1="1621" x2="185.9" y2="1621" stroke="#0A14C8" stroke-width="1.2"/>
<line x1="340.8" y1="1595" x2="340.8" y2="1622.8" stroke="#3C46D2" stroke-width="1.1"/>
<line x1="334.4" y1="1595" x2="347.2" y2="1595" stroke="#0A14C8" stroke-width="1.2"/>
<line x1="334.4" y1="1622.8" x2="347.2" y2="1622.8" stroke="#0A14C8" stroke-width="1.2"/>
<line x1="502.1" y1="1590" x2="502.1" y2="1617.4" stroke="#3C46D2" stroke-width="1.1"/>
<line x1="495.7" y1="1590" x2="508.5" y2="1590" stroke="#0A14C8" stroke-width="1.2"/>
<line x1="495.7" y1="1617.4" x2="508.5" y2="1617.4" stroke="#0A14C8" stroke-width="1.2"/>
<line x1="663.4" y1="1590.5" x2="663.4" y2="1616" stroke="#3C46D2" stroke-width="1.1"/>
<line x1="657" y1="1590.5" x2="669.8" y2="1590.5" stroke="#0A14C8" stroke-width="1.2"/>
<line x1="657" y1="1616" x2="669.8" y2="1616" stroke="#0A14C8" stroke-width="1.2"/>
<line x1="824.7" y1="1533" x2="824.7" y2="1558.9" stroke="#3C46D2" stroke-width="1.1"/>
<line x1="818.3" y1="1533" x2="831.1" y2="1533" stroke="#0A14C8" stroke-width="1.2"/>
<line x1="818.3" y1="1558.9" x2="831.1" y2="1558.9" stroke="#0A14C8" stroke-width="1.2"/>
<line x1="986" y1="1487.7" x2="986" y2="1506.1" stroke="#3C46D2" stroke-width="1.1"/>
<line x1="979.6" y1="1487.7" x2="992.4" y2="1487.7" stroke="#0A14C8" stroke-width="1.2"/>
<line x1="979.6" y1="1506.1" x2="992.4" y2="1506.1" stroke="#0A14C8" stroke-width="1.2"/>
<polygon points="172.5,1614.48 186.5,1614.48 179.5,1603" fill="#0A14C8"/>
<polygon points="333.8,1610.48 347.8,1610.48 340.8,1599" fill="#0A14C8"/>
<polygon points="495.1,1606.88 509.1,1606.88 502.1,1595.4" fill="#0A14C8"/>
<polygon points="656.4,1606.38 670.4,1606.38 663.4,1594.9" fill="#0A14C8"/>
<polygon points="817.7,1549.78 831.7,1549.78 824.7,1538.3" fill="#0A14C8"/>
<polygon points="979,1500.28 993,1500.28 986,1488.8" fill="#0A14C8"/>
<polyline points="179.5,1544.8 340.8,1542.9 502.1,1542 663.4,1500.7 824.7,1402 986,1241.3" fill="none" stroke="#E03CD8" stroke-width="1.25" stroke-linejoin="round"/>
<line x1="179.5" y1="1526.3" x2="179.5" y2="1563.3" stroke="#E03CD8" stroke-width="1.1"/>
<line x1="173.1" y1="1526.3" x2="185.9" y2="1526.3" stroke="#D800C4" stroke-width="1.2"/>
<line x1="173.1" y1="1563.3" x2="185.9" y2="1563.3" stroke="#D800C4" stroke-width="1.2"/>
<line x1="340.8" y1="1526.3" x2="340.8" y2="1557.8" stroke="#E03CD8" stroke-width="1.1"/>
<line x1="334.4" y1="1526.3" x2="347.2" y2="1526.3" stroke="#D800C4" stroke-width="1.2"/>
<line x1="334.4" y1="1557.8" x2="347.2" y2="1557.8" stroke="#D800C4" stroke-width="1.2"/>
<line x1="502.1" y1="1523" x2="502.1" y2="1560.5" stroke="#E03CD8" stroke-width="1.1"/>
<line x1="495.7" y1="1523" x2="508.5" y2="1523" stroke="#D800C4" stroke-width="1.2"/>
<line x1="495.7" y1="1560.5" x2="508.5" y2="1560.5" stroke="#D800C4" stroke-width="1.2"/>
<line x1="663.4" y1="1489.8" x2="663.4" y2="1510.8" stroke="#E03CD8" stroke-width="1.1"/>
<line x1="657" y1="1489.8" x2="669.8" y2="1489.8" stroke="#D800C4" stroke-width="1.2"/>
<line x1="657" y1="1510.8" x2="669.8" y2="1510.8" stroke="#D800C4" stroke-width="1.2"/>
<line x1="824.7" y1="1383" x2="824.7" y2="1419.7" stroke="#E03CD8" stroke-width="1.1"/>
<line x1="818.3" y1="1383" x2="831.1" y2="1383" stroke="#D800C4" stroke-width="1.2"/>
<line x1="818.3" y1="1419.7" x2="831.1" y2="1419.7" stroke="#D800C4" stroke-width="1.2"/>
<line x1="986" y1="1221.5" x2="986" y2="1258.5" stroke="#E03CD8" stroke-width="1.1"/>
<line x1="979.6" y1="1221.5" x2="992.4" y2="1221.5" stroke="#D800C4" stroke-width="1.2"/>
<line x1="979.6" y1="1258.5" x2="992.4" y2="1258.5" stroke="#D800C4" stroke-width="1.2"/>
<polygon points="172.5,1540.32 186.5,1540.32 179.5,1551.8" fill="#D800C4"/>
<polygon points="333.8,1538.42 347.8,1538.42 340.8,1549.9" fill="#D800C4"/>
<polygon points="495.1,1537.52 509.1,1537.52 502.1,1549" fill="#D800C4"/>
<polygon points="656.4,1496.22 670.4,1496.22 663.4,1507.7" fill="#D800C4"/>
<polygon points="817.7,1397.52 831.7,1397.52 824.7,1409" fill="#D800C4"/>
<polygon points="979,1236.82 993,1236.82 986,1248.3" fill="#D800C4"/>
<polyline points="179.5,1380.2 340.8,1374.8 502.1,1369.9 663.4,1349 824.7,1345.7 986,1091" fill="none" stroke="#F8BE6A" stroke-width="1.25" stroke-linejoin="round"/>
<line x1="179.5" y1="1359.3" x2="179.5" y2="1400.6" stroke="#F8BE6A" stroke-width="1.1"/>
<line x1="173.1" y1="1359.3" x2="185.9" y2="1359.3" stroke="#F6A83C" stroke-width="1.2"/>
<line x1="173.1" y1="1400.6" x2="185.9" y2="1400.6" stroke="#F6A83C" stroke-width="1.2"/>
<line x1="340.8" y1="1362.6" x2="340.8" y2="1387" stroke="#F8BE6A" stroke-width="1.1"/>
<line x1="334.4" y1="1362.6" x2="347.2" y2="1362.6" stroke="#F6A83C" stroke-width="1.2"/>
<line x1="334.4" y1="1387" x2="347.2" y2="1387" stroke="#F6A83C" stroke-width="1.2"/>
<line x1="502.1" y1="1352.2" x2="502.1" y2="1387" stroke="#F8BE6A" stroke-width="1.1"/>
<line x1="495.7" y1="1352.2" x2="508.5" y2="1352.2" stroke="#F6A83C" stroke-width="1.2"/>
<line x1="495.7" y1="1387" x2="508.5" y2="1387" stroke="#F6A83C" stroke-width="1.2"/>
<line x1="663.4" y1="1335.4" x2="663.4" y2="1362" stroke="#F8BE6A" stroke-width="1.1"/>
<line x1="657" y1="1335.4" x2="669.8" y2="1335.4" stroke="#F6A83C" stroke-width="1.2"/>
<line x1="657" y1="1362" x2="669.8" y2="1362" stroke="#F6A83C" stroke-width="1.2"/>
<line x1="824.7" y1="1336.7" x2="824.7" y2="1354.4" stroke="#F8BE6A" stroke-width="1.1"/>
<line x1="818.3" y1="1336.7" x2="831.1" y2="1336.7" stroke="#F6A83C" stroke-width="1.2"/>
<line x1="818.3" y1="1354.4" x2="831.1" y2="1354.4" stroke="#F6A83C" stroke-width="1.2"/>
<line x1="986" y1="1080" x2="986" y2="1102" stroke="#F8BE6A" stroke-width="1.1"/>
<line x1="979.6" y1="1080" x2="992.4" y2="1080" stroke="#F6A83C" stroke-width="1.2"/>
<line x1="979.6" y1="1102" x2="992.4" y2="1102" stroke="#F6A83C" stroke-width="1.2"/>
<polygon points="179.5,1373 186.7,1380.2 179.5,1387.4 172.3,1380.2" fill="#F6A83C"/>
<polygon points="340.8,1367.6 348,1374.8 340.8,1382 333.6,1374.8" fill="#F6A83C"/>
<polygon points="502.1,1362.7 509.3,1369.9 502.1,1377.1 494.9,1369.9" fill="#F6A83C"/>
<polygon points="663.4,1341.8 670.6,1349 663.4,1356.2 656.2,1349" fill="#F6A83C"/>
<polygon points="824.7,1338.5 831.9,1345.7 824.7,1352.9 817.5,1345.7" fill="#F6A83C"/>
<polygon points="986,1083.8 993.2,1091 986,1098.2 978.8,1091" fill="#F6A83C"/>
<text x="179.5" y="1350.3" font-size="33" text-anchor="middle" fill="#F6A83C" font-family="Liberation Serif">bc</text>
<text x="340.8" y="1353" font-size="33" text-anchor="middle" fill="#F6A83C" font-family="Liberation Serif">c</text>
<text x="502.1" y="1344.1" font-size="33" text-anchor="middle" fill="#F6A83C" font-family="Liberation Serif">bc</text>
<text x="663.4" y="1325.6" font-size="33" text-anchor="middle" fill="#F6A83C" font-family="Liberation Serif">bc</text>
<text x="824.7" y="1327" font-size="33" text-anchor="middle" fill="#F6A83C" font-family="Liberation Serif">b</text>
<text x="986" y="1128.6" font-size="33" text-anchor="middle" fill="#F6A83C" font-family="Liberation Serif">a</text>
<text x="179.5" y="1514.8" font-size="33" text-anchor="middle" fill="#D800C4" font-family="Liberation Serif">d</text>
<text x="340.8" y="1518.9" font-size="33" text-anchor="middle" fill="#D800C4" font-family="Liberation Serif">d</text>
<text x="502.1" y="1516.2" font-size="33" text-anchor="middle" fill="#D800C4" font-family="Liberation Serif">d</text>
<text x="663.4" y="1481.7" font-size="33" text-anchor="middle" fill="#D800C4" font-family="Liberation Serif">c</text>
<text x="824.7" y="1449.6" font-size="33" text-anchor="middle" fill="#D800C4" font-family="Liberation Serif">b</text>
<text x="986" y="1214.1" font-size="33" text-anchor="middle" fill="#D800C4" font-family="Liberation Serif">a</text>
<text x="179.5" y="1588.3" font-size="33" text-anchor="middle" fill="#0A14C8" font-family="Liberation Serif">c</text>
<text x="319.6" y="1631.8" font-size="33" text-anchor="middle" fill="#0A14C8" font-family="Liberation Serif">c</text>
<text x="480" y="1625" font-size="33" text-anchor="middle" fill="#0A14C8" font-family="Liberation Serif">c</text>
<text x="639.3" y="1625" font-size="33" text-anchor="middle" fill="#0A14C8" font-family="Liberation Serif">c</text>
<text x="824.7" y="1524.4" font-size="33" text-anchor="middle" fill="#0A14C8" font-family="Liberation Serif">b</text>
<text x="986" y="1474" font-size="33" text-anchor="middle" fill="#0A14C8" font-family="Liberation Serif">a</text>
<text x="159.1" y="1631.8" font-size="33" text-anchor="middle" fill="#E8000E" font-family="Liberation Serif">c</text>
<text x="340.8" y="1580.9" font-size="33" text-anchor="middle" fill="#E8000E" font-family="Liberation Serif">a</text>
<text x="502.1" y="1582.8" font-size="33" text-anchor="middle" fill="#E8000E" font-family="Liberation Serif">a</text>
<text x="663.4" y="1567.9" font-size="33" text-anchor="middle" fill="#E8000E" font-family="Liberation Serif">a</text>
<text x="824.7" y="1586.9" font-size="33" text-anchor="middle" fill="#E8000E" font-family="Liberation Serif">b</text>
<text x="986" y="1598.6" font-size="33" text-anchor="middle" fill="#E8000E" font-family="Liberation Serif">c</text>
<text x="179.5" y="1249.5" font-size="33" text-anchor="middle" fill="#000000" font-family="Liberation Serif">b</text>
<text x="340.8" y="1242.1" font-size="33" text-anchor="middle" fill="#000000" font-family="Liberation Serif">b</text>
<text x="502.1" y="1246.8" font-size="33" text-anchor="middle" fill="#000000" font-family="Liberation Serif">b</text>
<text x="663.4" y="1237.2" font-size="33" text-anchor="middle" fill="#000000" font-family="Liberation Serif">b</text>
<text x="824.7" y="989.2" font-size="33" text-anchor="middle" fill="#000000" font-family="Liberation Serif">a</text>
<text x="986" y="993.8" font-size="33" text-anchor="middle" fill="#000000" font-family="Liberation Serif">a</text>
<line x1="99.1" y1="942.5" x2="99.1" y2="1642.1" stroke="#000" stroke-width="2.2"/>
<line x1="98" y1="1641" x2="1067.2" y2="1641" stroke="#000" stroke-width="2.2"/>
<line x1="99.1" y1="1641" x2="113.1" y2="1641" stroke="#000" stroke-width="2.2"/>
<text x="84.9" y="1648.9" font-size="28.5" text-anchor="end" fill="#000" font-family="Liberation Serif">0</text>
<line x1="99.1" y1="1541.37" x2="113.1" y2="1541.37" stroke="#000" stroke-width="2.2"/>
<text x="84.9" y="1549.27" font-size="28.5" text-anchor="end" fill="#000" font-family="Liberation Serif">100</text>
<line x1="99.1" y1="1441.74" x2="113.1" y2="1441.74" stroke="#000" stroke-width="2.2"/>
<text x="84.9" y="1449.64" font-size="28.5" text-anchor="end" fill="#000" font-family="Liberation Serif">200</text>
<line x1="99.1" y1="1342.11" x2="113.1" y2="1342.11" stroke="#000" stroke-width="2.2"/>
<text x="84.9" y="1350.01" font-size="28.5" text-anchor="end" fill="#000" font-family="Liberation Serif">300</text>
<line x1="99.1" y1="1242.48" x2="113.1" y2="1242.48" stroke="#000" stroke-width="2.2"/>
<text x="84.9" y="1250.38" font-size="28.5" text-anchor="end" fill="#000" font-family="Liberation Serif">400</text>
<line x1="99.1" y1="1142.86" x2="113.1" y2="1142.86" stroke="#000" stroke-width="2.2"/>
<text x="84.9" y="1150.76" font-size="28.5" text-anchor="end" fill="#000" font-family="Liberation Serif">500</text>
<line x1="99.1" y1="1043.23" x2="113.1" y2="1043.23" stroke="#000" stroke-width="2.2"/>
<text x="84.9" y="1051.13" font-size="28.5" text-anchor="end" fill="#000" font-family="Liberation Serif">600</text>
<line x1="99.1" y1="943.6" x2="113.1" y2="943.6" stroke="#000" stroke-width="2.2"/>
<text x="84.9" y="951.5" font-size="28.5" text-anchor="end" fill="#000" font-family="Liberation Serif">700</text>
<line x1="179.5" y1="1641" x2="179.5" y2="1627" stroke="#000" stroke-width="2.2"/>
<text x="179.5" y="1675.3" font-size="28.3" text-anchor="middle" fill="#000" font-family="Liberation Serif">0</text>
<line x1="340.8" y1="1641" x2="340.8" y2="1627" stroke="#000" stroke-width="2.2"/>
<text x="340.8" y="1675.3" font-size="28.3" text-anchor="middle" fill="#000" font-family="Liberation Serif">5</text>
<line x1="502.1" y1="1641" x2="502.1" y2="1627" stroke="#000" stroke-width="2.2"/>
<text x="502.1" y="1675.3" font-size="28.3" text-anchor="middle" fill="#000" font-family="Liberation Serif">10</text>
<line x1="663.4" y1="1641" x2="663.4" y2="1627" stroke="#000" stroke-width="2.2"/>
<text x="663.4" y="1675.3" font-size="28.3" text-anchor="middle" fill="#000" font-family="Liberation Serif">20</text>
<line x1="824.7" y1="1641" x2="824.7" y2="1627" stroke="#000" stroke-width="2.2"/>
<text x="824.7" y="1675.3" font-size="28.3" text-anchor="middle" fill="#000" font-family="Liberation Serif">40</text>
<line x1="986" y1="1641" x2="986" y2="1627" stroke="#000" stroke-width="2.2"/>
<text x="986" y="1675.3" font-size="28.3" text-anchor="middle" fill="#000" font-family="Liberation Serif">80</text>
<line x1="1066.1" y1="941.1" x2="1066.1" y2="1642.1" stroke="#000" stroke-width="2.2"/>
<line x1="1052.1" y1="1641" x2="1066.1" y2="1641" stroke="#000" stroke-width="2.2"/>
<text x="1079.8" y="1649" font-size="28.5" text-anchor="start" fill="#000" font-family="Liberation Serif">0.0</text>
<line x1="1052.1" y1="1490.9" x2="1066.1" y2="1490.9" stroke="#000" stroke-width="2.2"/>
<text x="1079.8" y="1498.9" font-size="28.5" text-anchor="start" fill="#000" font-family="Liberation Serif">0.2</text>
<line x1="1052.1" y1="1340.8" x2="1066.1" y2="1340.8" stroke="#000" stroke-width="2.2"/>
<text x="1079.8" y="1348.8" font-size="28.5" text-anchor="start" fill="#000" font-family="Liberation Serif">0.4</text>
<line x1="1052.1" y1="1190.7" x2="1066.1" y2="1190.7" stroke="#000" stroke-width="2.2"/>
<text x="1079.8" y="1198.7" font-size="28.5" text-anchor="start" fill="#000" font-family="Liberation Serif">0.6</text>
<line x1="1052.1" y1="1040.6" x2="1066.1" y2="1040.6" stroke="#000" stroke-width="2.2"/>
<text x="1079.8" y="1048.6" font-size="28.5" text-anchor="start" fill="#000" font-family="Liberation Serif">0.8</text>
<line x1="1059.1" y1="1565.95" x2="1066.1" y2="1565.95" stroke="#000" stroke-width="2.2"/>
<line x1="1059.1" y1="1415.85" x2="1066.1" y2="1415.85" stroke="#000" stroke-width="2.2"/>
<line x1="1059.1" y1="1265.75" x2="1066.1" y2="1265.75" stroke="#000" stroke-width="2.2"/>
<line x1="1059.1" y1="1115.65" x2="1066.1" y2="1115.65" stroke="#000" stroke-width="2.2"/>
<line x1="156.4" y1="963.9" x2="231.7" y2="963.9" stroke="#6a6a6a" stroke-width="1.3"/>
<rect x="188.2" y="958.5" width="10.8" height="10.8" fill="#000000"/>
<text x="239.7" y="974" font-size="34.5" text-anchor="start" fill="#000" font-family="Liberation Serif">Hardness</text>
<line x1="156.4" y1="1004.7" x2="231.7" y2="1004.7" stroke="#3a44c8" stroke-width="1.3"/>
<polygon points="186.6,1009.18 200.6,1009.18 193.6,997.7" fill="#0A14C8"/>
<text x="240.5" y="1015.6" font-size="34.5" text-anchor="start" fill="#000" font-family="Liberation Serif">Chewiness</text>
<line x1="156.4" y1="1044.7" x2="231.7" y2="1044.7" stroke="#F8C88C" stroke-width="1.3"/>
<polygon points="193.6,1037.5 200.8,1044.7 193.6,1051.9 186.4,1044.7" fill="#F6A83C"/>
<text x="241.2" y="1055" font-size="34.5" text-anchor="start" fill="#000" font-family="Liberation Serif">Elasticity</text>
<line x1="419.4" y1="963.9" x2="495.5" y2="963.9" stroke="#F07474" stroke-width="1.3"/>
<circle cx="457.4" cy="963.9" r="5.8" fill="#E8000E"/>
<text x="505.3" y="974" font-size="34.5" text-anchor="start" fill="#000" font-family="Liberation Serif">Viscosity</text>
<line x1="423" y1="1004.7" x2="499" y2="1004.7" stroke="#D844D4" stroke-width="1.3"/>
<polygon points="454,1000.22 468,1000.22 461,1011.7" fill="#D800C4"/>
<text x="508.5" y="1015.6" font-size="34.5" text-anchor="start" fill="#000" font-family="Liberation Serif">Adhesion</text>
<text x="861" y="961.2" font-size="31" text-anchor="start" fill="#000" font-family="Liberation Serif">After printing</text>
<text transform="translate(28.9,1413.39) rotate(-90) scale(0.9666,1)" x="0" y="0" font-family="Liberation Serif" font-size="35.5" fill="#000">Texture properties</text>
<text transform="translate(27.1,1153.8) rotate(-90) scale(1.0452,1)" x="0" y="0" font-family="Liberation Serif" font-size="26.4" fill="#000">(g)</text>
<text transform="translate(1147.8,1346.63) rotate(-90) scale(0.9609,1)" x="0" y="0" font-family="Liberation Serif" font-size="35.7" fill="#000">Elasticity</text>
<text transform="translate(1142.9,1205.01) rotate(-90) scale(1.0267,1)" x="0" y="0" font-family="Liberation Serif" font-size="27" fill="#000">(Pa)</text>
<text x="157.8" y="1713.5" font-size="34.2" fill="#000" font-family="Liberation Serif">NS-XOS-surimi with diffferent Ca<tspan font-size="18.2" dy="-18" letter-spacing="1.2">2+</tspan><tspan dy="18"> contents (mM·kg</tspan><tspan font-size="18.2" dy="-18">-1</tspan><tspan dy="18" dx="2.5">)</tspan></text>
<text x="580.2" y="1783.4" font-size="43.8" text-anchor="middle" fill="#000" font-family="Liberation Serif">(c)</text>
<polyline points="1340.5,1276.7 1507.8,1203.2 1675.1,1196.4 1842.4,1178.8 2009.7,1138.8 2177,1092.5" fill="none" stroke="#303030" stroke-width="1.25" stroke-linejoin="round"/>
<line x1="1340.5" y1="1269.9" x2="1340.5" y2="1290.3" stroke="#555" stroke-width="1.3"/>
<line x1="1333.7" y1="1269.9" x2="1347.3" y2="1269.9" stroke="#000" stroke-width="1.4"/>
<line x1="1333.7" y1="1290.3" x2="1347.3" y2="1290.3" stroke="#000" stroke-width="1.4"/>
<line x1="1507.8" y1="1186.1" x2="1507.8" y2="1220.1" stroke="#555" stroke-width="1.3"/>
<line x1="1501" y1="1186.1" x2="1514.6" y2="1186.1" stroke="#000" stroke-width="1.4"/>
<line x1="1501" y1="1220.1" x2="1514.6" y2="1220.1" stroke="#000" stroke-width="1.4"/>
<line x1="1675.1" y1="1182" x2="1675.1" y2="1210.9" stroke="#555" stroke-width="1.3"/>
<line x1="1668.3" y1="1182" x2="1681.9" y2="1182" stroke="#000" stroke-width="1.4"/>
<line x1="1668.3" y1="1210.9" x2="1681.9" y2="1210.9" stroke="#000" stroke-width="1.4"/>
<line x1="1842.4" y1="1158.4" x2="1842.4" y2="1199.2" stroke="#555" stroke-width="1.3"/>
<line x1="1835.6" y1="1158.4" x2="1849.2" y2="1158.4" stroke="#000" stroke-width="1.4"/>
<line x1="1835.6" y1="1199.2" x2="1849.2" y2="1199.2" stroke="#000" stroke-width="1.4"/>
<line x1="2009.7" y1="1120.3" x2="2009.7" y2="1157" stroke="#555" stroke-width="1.3"/>
<line x1="2002.9" y1="1120.3" x2="2016.5" y2="1120.3" stroke="#000" stroke-width="1.4"/>
<line x1="2002.9" y1="1157" x2="2016.5" y2="1157" stroke="#000" stroke-width="1.4"/>
<line x1="2177" y1="1074" x2="2177" y2="1110" stroke="#555" stroke-width="1.3"/>
<line x1="2170.2" y1="1074" x2="2183.8" y2="1074" stroke="#000" stroke-width="1.4"/>
<line x1="2170.2" y1="1110" x2="2183.8" y2="1110" stroke="#000" stroke-width="1.4"/>
<rect x="1335.1" y="1271.3" width="10.8" height="10.8" fill="#000000"/>
<rect x="1502.4" y="1197.8" width="10.8" height="10.8" fill="#000000"/>
<rect x="1669.7" y="1191" width="10.8" height="10.8" fill="#000000"/>
<rect x="1837" y="1173.4" width="10.8" height="10.8" fill="#000000"/>
<rect x="2004.3" y="1133.4" width="10.8" height="10.8" fill="#000000"/>
<rect x="2171.6" y="1087.1" width="10.8" height="10.8" fill="#000000"/>
<polyline points="1340.5,1580.7 1507.8,1559.7 1675.1,1529.8 1842.4,1487.7 2009.7,1446 2177,1403.3" fill="none" stroke="#3C46D2" stroke-width="1.25" stroke-linejoin="round"/>
<line x1="1340.5" y1="1571.4" x2="1340.5" y2="1591.5" stroke="#3C46D2" stroke-width="1.1"/>
<line x1="1334.1" y1="1571.4" x2="1346.9" y2="1571.4" stroke="#0A14C8" stroke-width="1.2"/>
<line x1="1334.1" y1="1591.5" x2="1346.9" y2="1591.5" stroke="#0A14C8" stroke-width="1.2"/>
<line x1="1507.8" y1="1548" x2="1507.8" y2="1572" stroke="#3C46D2" stroke-width="1.1"/>
<line x1="1501.4" y1="1548" x2="1514.2" y2="1548" stroke="#0A14C8" stroke-width="1.2"/>
<line x1="1501.4" y1="1572" x2="1514.2" y2="1572" stroke="#0A14C8" stroke-width="1.2"/>
<line x1="1675.1" y1="1521.6" x2="1675.1" y2="1539.3" stroke="#3C46D2" stroke-width="1.1"/>
<line x1="1668.7" y1="1521.6" x2="1681.5" y2="1521.6" stroke="#0A14C8" stroke-width="1.2"/>
<line x1="1668.7" y1="1539.3" x2="1681.5" y2="1539.3" stroke="#0A14C8" stroke-width="1.2"/>
<line x1="1842.4" y1="1478.1" x2="1842.4" y2="1498.5" stroke="#3C46D2" stroke-width="1.1"/>
<line x1="1836" y1="1478.1" x2="1848.8" y2="1478.1" stroke="#0A14C8" stroke-width="1.2"/>
<line x1="1836" y1="1498.5" x2="1848.8" y2="1498.5" stroke="#0A14C8" stroke-width="1.2"/>
<line x1="2009.7" y1="1426.5" x2="2009.7" y2="1467.3" stroke="#3C46D2" stroke-width="1.1"/>
<line x1="2003.3" y1="1426.5" x2="2016.1" y2="1426.5" stroke="#0A14C8" stroke-width="1.2"/>
<line x1="2003.3" y1="1467.3" x2="2016.1" y2="1467.3" stroke="#0A14C8" stroke-width="1.2"/>
<line x1="2177" y1="1383.5" x2="2177" y2="1422.4" stroke="#3C46D2" stroke-width="1.1"/>
<line x1="2170.6" y1="1383.5" x2="2183.4" y2="1383.5" stroke="#0A14C8" stroke-width="1.2"/>
<line x1="2170.6" y1="1422.4" x2="2183.4" y2="1422.4" stroke="#0A14C8" stroke-width="1.2"/>
<polygon points="1333.5,1585.18 1347.5,1585.18 1340.5,1573.7" fill="#0A14C8"/>
<polygon points="1500.8,1564.18 1514.8,1564.18 1507.8,1552.7" fill="#0A14C8"/>
<polygon points="1668.1,1534.28 1682.1,1534.28 1675.1,1522.8" fill="#0A14C8"/>
<polygon points="1835.4,1492.18 1849.4,1492.18 1842.4,1480.7" fill="#0A14C8"/>
<polygon points="2002.7,1450.48 2016.7,1450.48 2009.7,1439" fill="#0A14C8"/>
<polygon points="2170,1407.78 2184,1407.78 2177,1396.3" fill="#0A14C8"/>
<polyline points="1340.5,1433.3 1507.8,1430 1675.1,1414.4 1842.4,1343.5 2009.7,1310.3 2177,1304.1" fill="none" stroke="#E03CD8" stroke-width="1.25" stroke-linejoin="round"/>
<line x1="1340.5" y1="1417.5" x2="1340.5" y2="1447.4" stroke="#E03CD8" stroke-width="1.1"/>
<line x1="1334.1" y1="1417.5" x2="1346.9" y2="1417.5" stroke="#D800C4" stroke-width="1.2"/>
<line x1="1334.1" y1="1447.4" x2="1346.9" y2="1447.4" stroke="#D800C4" stroke-width="1.2"/>
<line x1="1507.8" y1="1412" x2="1507.8" y2="1447.4" stroke="#E03CD8" stroke-width="1.1"/>
<line x1="1501.4" y1="1412" x2="1514.2" y2="1412" stroke="#D800C4" stroke-width="1.2"/>
<line x1="1501.4" y1="1447.4" x2="1514.2" y2="1447.4" stroke="#D800C4" stroke-width="1.2"/>
<line x1="1675.1" y1="1402.3" x2="1675.1" y2="1425.6" stroke="#E03CD8" stroke-width="1.1"/>
<line x1="1668.7" y1="1402.3" x2="1681.5" y2="1402.3" stroke="#D800C4" stroke-width="1.2"/>
<line x1="1668.7" y1="1425.6" x2="1681.5" y2="1425.6" stroke="#D800C4" stroke-width="1.2"/>
<line x1="1842.4" y1="1327.2" x2="1842.4" y2="1357.1" stroke="#E03CD8" stroke-width="1.1"/>
<line x1="1836" y1="1327.2" x2="1848.8" y2="1327.2" stroke="#D800C4" stroke-width="1.2"/>
<line x1="1836" y1="1357.1" x2="1848.8" y2="1357.1" stroke="#D800C4" stroke-width="1.2"/>
<line x1="2009.7" y1="1294.3" x2="2009.7" y2="1325" stroke="#E03CD8" stroke-width="1.1"/>
<line x1="2003.3" y1="1294.3" x2="2016.1" y2="1294.3" stroke="#D800C4" stroke-width="1.2"/>
<line x1="2003.3" y1="1325" x2="2016.1" y2="1325" stroke="#D800C4" stroke-width="1.2"/>
<line x1="2177" y1="1284.8" x2="2177" y2="1323.1" stroke="#E03CD8" stroke-width="1.1"/>
<line x1="2170.6" y1="1284.8" x2="2183.4" y2="1284.8" stroke="#D800C4" stroke-width="1.2"/>
<line x1="2170.6" y1="1323.1" x2="2183.4" y2="1323.1" stroke="#D800C4" stroke-width="1.2"/>
<polygon points="1333.5,1428.82 1347.5,1428.82 1340.5,1440.3" fill="#D800C4"/>
<polygon points="1500.8,1425.52 1514.8,1425.52 1507.8,1437" fill="#D800C4"/>
<polygon points="1668.1,1409.92 1682.1,1409.92 1675.1,1421.4" fill="#D800C4"/>
<polygon points="1835.4,1339.02 1849.4,1339.02 1842.4,1350.5" fill="#D800C4"/>
<polygon points="2002.7,1305.82 2016.7,1305.82 2009.7,1317.3" fill="#D800C4"/>
<polygon points="2170,1299.62 2184,1299.62 2177,1311.1" fill="#D800C4"/>
<polyline points="1340.5,1338.1 1507.8,1308.7 1675.1,1263.6 1842.4,1244 2009.7,1220.9 2177,1166.5" fill="none" stroke="#F8BE6A" stroke-width="1.25" stroke-linejoin="round"/>
<line x1="1340.5" y1="1318.5" x2="1340.5" y2="1357.1" stroke="#F8BE6A" stroke-width="1.1"/>
<line x1="1334.1" y1="1318.5" x2="1346.9" y2="1318.5" stroke="#F6A83C" stroke-width="1.2"/>
<line x1="1334.1" y1="1357.1" x2="1346.9" y2="1357.1" stroke="#F6A83C" stroke-width="1.2"/>
<line x1="1507.8" y1="1296.5" x2="1507.8" y2="1320.4" stroke="#F8BE6A" stroke-width="1.1"/>
<line x1="1501.4" y1="1296.5" x2="1514.2" y2="1296.5" stroke="#F6A83C" stroke-width="1.2"/>
<line x1="1501.4" y1="1320.4" x2="1514.2" y2="1320.4" stroke="#F6A83C" stroke-width="1.2"/>
<line x1="1675.1" y1="1251.4" x2="1675.1" y2="1276.7" stroke="#F8BE6A" stroke-width="1.1"/>
<line x1="1668.7" y1="1251.4" x2="1681.5" y2="1251.4" stroke="#F6A83C" stroke-width="1.2"/>
<line x1="1668.7" y1="1276.7" x2="1681.5" y2="1276.7" stroke="#F6A83C" stroke-width="1.2"/>
<line x1="1842.4" y1="1225.8" x2="1842.4" y2="1261.7" stroke="#F8BE6A" stroke-width="1.1"/>
<line x1="1836" y1="1225.8" x2="1848.8" y2="1225.8" stroke="#F6A83C" stroke-width="1.2"/>
<line x1="1836" y1="1261.7" x2="1848.8" y2="1261.7" stroke="#F6A83C" stroke-width="1.2"/>
<line x1="2009.7" y1="1202.4" x2="2009.7" y2="1237.2" stroke="#F8BE6A" stroke-width="1.1"/>
<line x1="2003.3" y1="1202.4" x2="2016.1" y2="1202.4" stroke="#F6A83C" stroke-width="1.2"/>
<line x1="2003.3" y1="1237.2" x2="2016.1" y2="1237.2" stroke="#F6A83C" stroke-width="1.2"/>
<line x1="2177" y1="1153.5" x2="2177" y2="1178.8" stroke="#F8BE6A" stroke-width="1.1"/>
<line x1="2170.6" y1="1153.5" x2="2183.4" y2="1153.5" stroke="#F6A83C" stroke-width="1.2"/>
<line x1="2170.6" y1="1178.8" x2="2183.4" y2="1178.8" stroke="#F6A83C" stroke-width="1.2"/>
<polygon points="1340.5,1330.9 1347.7,1338.1 1340.5,1345.3 1333.3,1338.1" fill="#F6A83C"/>
<polygon points="1507.8,1301.5 1515,1308.7 1507.8,1315.9 1500.6,1308.7" fill="#F6A83C"/>
<polygon points="1675.1,1256.4 1682.3,1263.6 1675.1,1270.8 1667.9,1263.6" fill="#F6A83C"/>
<polygon points="1842.4,1236.8 1849.6,1244 1842.4,1251.2 1835.2,1244" fill="#F6A83C"/>
<polygon points="2009.7,1213.7 2016.9,1220.9 2009.7,1228.1 2002.5,1220.9" fill="#F6A83C"/>
<polygon points="2177,1159.3 2184.2,1166.5 2177,1173.7 2169.8,1166.5" fill="#F6A83C"/>
<polyline points="1340.5,1260.3 1507.8,1250 1675.1,1147.9 1842.4,1104 2009.7,1220.9 2177,1599.7" fill="none" stroke="#EC3C3C" stroke-width="1.25" stroke-linejoin="round"/>
<line x1="1340.5" y1="1246.2" x2="1340.5" y2="1274" stroke="#EC3C3C" stroke-width="1.1"/>
<line x1="1334.1" y1="1246.2" x2="1346.9" y2="1246.2" stroke="#E8000E" stroke-width="1.2"/>
<line x1="1334.1" y1="1274" x2="1346.9" y2="1274" stroke="#E8000E" stroke-width="1.2"/>
<line x1="1507.8" y1="1235.3" x2="1507.8" y2="1263.1" stroke="#EC3C3C" stroke-width="1.1"/>
<line x1="1501.4" y1="1235.3" x2="1514.2" y2="1235.3" stroke="#E8000E" stroke-width="1.2"/>
<line x1="1501.4" y1="1263.1" x2="1514.2" y2="1263.1" stroke="#E8000E" stroke-width="1.2"/>
<line x1="1675.1" y1="1136.1" x2="1675.1" y2="1159.7" stroke="#EC3C3C" stroke-width="1.1"/>
<line x1="1668.7" y1="1136.1" x2="1681.5" y2="1136.1" stroke="#E8000E" stroke-width="1.2"/>
<line x1="1668.7" y1="1159.7" x2="1681.5" y2="1159.7" stroke="#E8000E" stroke-width="1.2"/>
<line x1="1842.4" y1="1090.4" x2="1842.4" y2="1117.6" stroke="#EC3C3C" stroke-width="1.1"/>
<line x1="1836" y1="1090.4" x2="1848.8" y2="1090.4" stroke="#E8000E" stroke-width="1.2"/>
<line x1="1836" y1="1117.6" x2="1848.8" y2="1117.6" stroke="#E8000E" stroke-width="1.2"/>
<line x1="2009.7" y1="1208.7" x2="2009.7" y2="1233.2" stroke="#EC3C3C" stroke-width="1.1"/>
<line x1="2003.3" y1="1208.7" x2="2016.1" y2="1208.7" stroke="#E8000E" stroke-width="1.2"/>
<line x1="2003.3" y1="1233.2" x2="2016.1" y2="1233.2" stroke="#E8000E" stroke-width="1.2"/>
<line x1="2177" y1="1588.3" x2="2177" y2="1610" stroke="#EC3C3C" stroke-width="1.1"/>
<line x1="2170.6" y1="1588.3" x2="2183.4" y2="1588.3" stroke="#E8000E" stroke-width="1.2"/>
<line x1="2170.6" y1="1610" x2="2183.4" y2="1610" stroke="#E8000E" stroke-width="1.2"/>
<circle cx="1340.5" cy="1260.3" r="5.8" fill="#E8000E"/>
<circle cx="1507.8" cy="1250" r="5.8" fill="#E8000E"/>
<circle cx="1675.1" cy="1147.9" r="5.8" fill="#E8000E"/>
<circle cx="1842.4" cy="1104" r="5.8" fill="#E8000E"/>
<circle cx="2009.7" cy="1220.9" r="5.8" fill="#E8000E"/>
<circle cx="2177" cy="1599.7" r="5.8" fill="#E8000E"/>
<text x="1350.8" y="1373.4" font-size="30" text-anchor="middle" fill="#F6A83C" font-family="Liberation Serif">d</text>
<text x="1507.8" y="1348.4" font-size="30" text-anchor="middle" fill="#F6A83C" font-family="Liberation Serif">d</text>
<text x="1675.1" y="1299.8" font-size="30" text-anchor="middle" fill="#F6A83C" font-family="Liberation Serif">c</text>
<text x="1842.4" y="1288.9" font-size="30" text-anchor="middle" fill="#F6A83C" font-family="Liberation Serif">bc</text>
<text x="2009.7" y="1195.1" font-size="30" text-anchor="middle" fill="#F6A83C" font-family="Liberation Serif">b</text>
<text x="2177" y="1144.8" font-size="30" text-anchor="middle" fill="#F6A83C" font-family="Liberation Serif">a</text>
<text x="1340.5" y="1408.8" font-size="30" text-anchor="middle" fill="#D800C4" font-family="Liberation Serif">c</text>
<text x="1507.8" y="1404.7" font-size="30" text-anchor="middle" fill="#D800C4" font-family="Liberation Serif">c</text>
<text x="1675.1" y="1392.5" font-size="30" text-anchor="middle" fill="#D800C4" font-family="Liberation Serif">c</text>
<text x="1842.4" y="1384.3" font-size="30" text-anchor="middle" fill="#D800C4" font-family="Liberation Serif">b</text>
<text x="2009.7" y="1350.3" font-size="30" text-anchor="middle" fill="#D800C4" font-family="Liberation Serif">ab</text>
<text x="2177" y="1276.7" font-size="30" text-anchor="middle" fill="#D800C4" font-family="Liberation Serif">a</text>
<text x="1340.5" y="1562.4" font-size="30" text-anchor="middle" fill="#0A14C8" font-family="Liberation Serif">f</text>
<text x="1507.8" y="1539.3" font-size="30" text-anchor="middle" fill="#0A14C8" font-family="Liberation Serif">e</text>
<text x="1675.1" y="1514.8" font-size="30" text-anchor="middle" fill="#0A14C8" font-family="Liberation Serif">d</text>
<text x="1842.4" y="1470" font-size="30" text-anchor="middle" fill="#0A14C8" font-family="Liberation Serif">c</text>
<text x="2009.7" y="1418.3" font-size="30" text-anchor="middle" fill="#0A14C8" font-family="Liberation Serif">b</text>
<text x="2177" y="1374.8" font-size="30" text-anchor="middle" fill="#0A14C8" font-family="Liberation Serif">a</text>
<text x="1340.5" y="1235.9" font-size="30" text-anchor="middle" fill="#E8000E" font-family="Liberation Serif">c</text>
<text x="1487.3" y="1280.7" font-size="30" text-anchor="middle" fill="#E8000E" font-family="Liberation Serif">c</text>
<text x="1675.1" y="1128.4" font-size="30" text-anchor="middle" fill="#E8000E" font-family="Liberation Serif">b</text>
<text x="1842.4" y="1080.9" font-size="30" text-anchor="middle" fill="#E8000E" font-family="Liberation Serif">a</text>
<text x="2009.7" y="1260.3" font-size="30" text-anchor="middle" fill="#E8000E" font-family="Liberation Serif">c</text>
<text x="2177" y="1580.1" font-size="30" text-anchor="middle" fill="#E8000E" font-family="Liberation Serif">d</text>
<text x="1355.4" y="1302.5" font-size="30" text-anchor="middle" fill="#000000" font-family="Liberation Serif">d</text>
<text x="1507.8" y="1180.1" font-size="30" text-anchor="middle" fill="#000000" font-family="Liberation Serif">c</text>
<text x="1675.1" y="1231.8" font-size="30" text-anchor="middle" fill="#000000" font-family="Liberation Serif">c</text>
<text x="1842.4" y="1152.9" font-size="30" text-anchor="middle" fill="#000000" font-family="Liberation Serif">bc</text>
<text x="2009.7" y="1112.1" font-size="30" text-anchor="middle" fill="#000000" font-family="Liberation Serif">b</text>
<text x="2177" y="1064.5" font-size="30" text-anchor="middle" fill="#000000" font-family="Liberation Serif">a</text>
<line x1="1307" y1="943.1" x2="1307" y2="1644.1" stroke="#000" stroke-width="2.2"/>
<line x1="1305.9" y1="1643" x2="2211.6" y2="1643" stroke="#000" stroke-width="2.2"/>
<line x1="1307" y1="1643" x2="1321" y2="1643" stroke="#000" stroke-width="2.2"/>
<text x="1293.8" y="1649.8" font-size="25.8" text-anchor="end" fill="#000" font-family="Liberation Serif">1000</text>
<line x1="1307" y1="1503.24" x2="1321" y2="1503.24" stroke="#000" stroke-width="2.2"/>
<text x="1293.8" y="1510.04" font-size="25.8" text-anchor="end" fill="#000" font-family="Liberation Serif">1500</text>
<line x1="1307" y1="1363.48" x2="1321" y2="1363.48" stroke="#000" stroke-width="2.2"/>
<text x="1293.8" y="1370.28" font-size="25.8" text-anchor="end" fill="#000" font-family="Liberation Serif">2000</text>
<line x1="1307" y1="1223.72" x2="1321" y2="1223.72" stroke="#000" stroke-width="2.2"/>
<text x="1293.8" y="1230.52" font-size="25.8" text-anchor="end" fill="#000" font-family="Liberation Serif">2500</text>
<line x1="1307" y1="1083.96" x2="1321" y2="1083.96" stroke="#000" stroke-width="2.2"/>
<text x="1293.8" y="1090.76" font-size="25.8" text-anchor="end" fill="#000" font-family="Liberation Serif">3000</text>
<line x1="1307" y1="944.2" x2="1321" y2="944.2" stroke="#000" stroke-width="2.2"/>
<text x="1293.8" y="951" font-size="25.8" text-anchor="end" fill="#000" font-family="Liberation Serif">3500</text>
<line x1="1340.5" y1="1643" x2="1340.5" y2="1629" stroke="#000" stroke-width="2.2"/>
<text x="1340.5" y="1675.3" font-size="25.8" text-anchor="middle" fill="#000" font-family="Liberation Serif">0</text>
<line x1="1507.8" y1="1643" x2="1507.8" y2="1629" stroke="#000" stroke-width="2.2"/>
<text x="1507.8" y="1675.3" font-size="25.8" text-anchor="middle" fill="#000" font-family="Liberation Serif">5</text>
<line x1="1675.1" y1="1643" x2="1675.1" y2="1629" stroke="#000" stroke-width="2.2"/>
<text x="1675.1" y="1675.3" font-size="25.8" text-anchor="middle" fill="#000" font-family="Liberation Serif">10</text>
<line x1="1842.4" y1="1643" x2="1842.4" y2="1629" stroke="#000" stroke-width="2.2"/>
<text x="1842.4" y="1675.3" font-size="25.8" text-anchor="middle" fill="#000" font-family="Liberation Serif">20</text>
<line x1="2009.7" y1="1643" x2="2009.7" y2="1629" stroke="#000" stroke-width="2.2"/>
<text x="2009.7" y="1675.3" font-size="25.8" text-anchor="middle" fill="#000" font-family="Liberation Serif">40</text>
<line x1="2177" y1="1643" x2="2177" y2="1629" stroke="#000" stroke-width="2.2"/>
<text x="2177" y="1675.3" font-size="25.8" text-anchor="middle" fill="#000" font-family="Liberation Serif">80</text>
<line x1="2210.5" y1="942.4" x2="2210.5" y2="1644.1" stroke="#000" stroke-width="2.2"/>
<line x1="2196.5" y1="1643" x2="2210.5" y2="1643" stroke="#000" stroke-width="2.2"/>
<text x="2222.2" y="1650.2" font-size="25.8" text-anchor="start" fill="#000" font-family="Liberation Serif">8</text>
<line x1="2196.5" y1="1584.77" x2="2210.5" y2="1584.77" stroke="#000" stroke-width="2.2"/>
<text x="2222.2" y="1591.97" font-size="25.8" text-anchor="start" fill="#000" font-family="Liberation Serif">12</text>
<line x1="2196.5" y1="1526.53" x2="2210.5" y2="1526.53" stroke="#000" stroke-width="2.2"/>
<text x="2222.2" y="1533.73" font-size="25.8" text-anchor="start" fill="#000" font-family="Liberation Serif">16</text>
<line x1="2196.5" y1="1468.3" x2="2210.5" y2="1468.3" stroke="#000" stroke-width="2.2"/>
<text x="2222.2" y="1475.5" font-size="25.8" text-anchor="start" fill="#000" font-family="Liberation Serif">20</text>
<line x1="2196.5" y1="1410.07" x2="2210.5" y2="1410.07" stroke="#000" stroke-width="2.2"/>
<text x="2222.2" y="1417.27" font-size="25.8" text-anchor="start" fill="#000" font-family="Liberation Serif">24</text>
<line x1="2196.5" y1="1351.83" x2="2210.5" y2="1351.83" stroke="#000" stroke-width="2.2"/>
<text x="2222.2" y="1359.03" font-size="25.8" text-anchor="start" fill="#000" font-family="Liberation Serif">28</text>
<line x1="2196.5" y1="1293.6" x2="2210.5" y2="1293.6" stroke="#000" stroke-width="2.2"/>
<text x="2222.2" y="1300.8" font-size="25.8" text-anchor="start" fill="#000" font-family="Liberation Serif">32</text>
<line x1="2196.5" y1="1235.37" x2="2210.5" y2="1235.37" stroke="#000" stroke-width="2.2"/>
<text x="2222.2" y="1242.57" font-size="25.8" text-anchor="start" fill="#000" font-family="Liberation Serif">36</text>
<line x1="2196.5" y1="1177.13" x2="2210.5" y2="1177.13" stroke="#000" stroke-width="2.2"/>
<text x="2222.2" y="1184.33" font-size="25.8" text-anchor="start" fill="#000" font-family="Liberation Serif">40</text>
<line x1="2196.5" y1="1118.9" x2="2210.5" y2="1118.9" stroke="#000" stroke-width="2.2"/>
<text x="2222.2" y="1126.1" font-size="25.8" text-anchor="start" fill="#000" font-family="Liberation Serif">44</text>
<line x1="2196.5" y1="1060.67" x2="2210.5" y2="1060.67" stroke="#000" stroke-width="2.2"/>
<text x="2222.2" y="1067.87" font-size="25.8" text-anchor="start" fill="#000" font-family="Liberation Serif">48</text>
<line x1="2196.5" y1="1002.43" x2="2210.5" y2="1002.43" stroke="#000" stroke-width="2.2"/>
<text x="2222.2" y="1009.63" font-size="25.8" text-anchor="start" fill="#000" font-family="Liberation Serif">52</text>
<line x1="2196.5" y1="944.2" x2="2210.5" y2="944.2" stroke="#000" stroke-width="2.2"/>
<text x="2222.2" y="951.4" font-size="25.8" text-anchor="start" fill="#000" font-family="Liberation Serif">56</text>
<line x1="2293.3" y1="942.4" x2="2293.3" y2="1644.1" stroke="#000" stroke-width="2.2"/>
<line x1="2279.3" y1="1643" x2="2293.3" y2="1643" stroke="#000" stroke-width="2.2"/>
<text x="2305.8" y="1650.2" font-size="25.8" text-anchor="start" fill="#000" font-family="Liberation Serif">0.4</text>
<line x1="2279.3" y1="1503.24" x2="2293.3" y2="1503.24" stroke="#000" stroke-width="2.2"/>
<text x="2305.8" y="1510.44" font-size="25.8" text-anchor="start" fill="#000" font-family="Liberation Serif">0.6</text>
<line x1="2279.3" y1="1363.48" x2="2293.3" y2="1363.48" stroke="#000" stroke-width="2.2"/>
<text x="2305.8" y="1370.68" font-size="25.8" text-anchor="start" fill="#000" font-family="Liberation Serif">0.8</text>
<line x1="2279.3" y1="1223.72" x2="2293.3" y2="1223.72" stroke="#000" stroke-width="2.2"/>
<text x="2305.8" y="1230.92" font-size="25.8" text-anchor="start" fill="#000" font-family="Liberation Serif">1.0</text>
<line x1="2279.3" y1="1083.96" x2="2293.3" y2="1083.96" stroke="#000" stroke-width="2.2"/>
<text x="2305.8" y="1091.16" font-size="25.8" text-anchor="start" fill="#000" font-family="Liberation Serif">1.2</text>
<line x1="2279.3" y1="944.2" x2="2293.3" y2="944.2" stroke="#000" stroke-width="2.2"/>
<text x="2305.8" y="951.4" font-size="25.8" text-anchor="start" fill="#000" font-family="Liberation Serif">1.4</text>
<line x1="1360" y1="963.9" x2="1429.7" y2="963.9" stroke="#6a6a6a" stroke-width="1.3"/>
<rect x="1389.5" y="958.5" width="10.8" height="10.8" fill="#000000"/>
<text x="1437.4" y="972.9" font-size="31.4" text-anchor="start" fill="#000" font-family="Liberation Serif">Hardness</text>
<line x1="1360" y1="1001.2" x2="1429.7" y2="1001.2" stroke="#3a44c8" stroke-width="1.3"/>
<polygon points="1387.9,1005.68 1401.9,1005.68 1394.9,994.2" fill="#0A14C8"/>
<text x="1438.2" y="1011" font-size="31.4" text-anchor="start" fill="#000" font-family="Liberation Serif">Chewiness</text>
<line x1="1360" y1="1045" x2="1429.7" y2="1045" stroke="#F8C88C" stroke-width="1.3"/>
<polygon points="1394.9,1037.8 1402.1,1045 1394.9,1052.2 1387.7,1045" fill="#F6A83C"/>
<text x="1438.9" y="1055" font-size="31.4" text-anchor="start" fill="#000" font-family="Liberation Serif">Elasticity</text>
<line x1="1601.5" y1="963.9" x2="1670.9" y2="963.9" stroke="#F07474" stroke-width="1.3"/>
<circle cx="1636" cy="963.9" r="5.8" fill="#E8000E"/>
<text x="1680.4" y="972.9" font-size="31.4" text-anchor="start" fill="#000" font-family="Liberation Serif">Viscosity</text>
<line x1="1605.6" y1="1001.2" x2="1673.6" y2="1001.2" stroke="#D844D4" stroke-width="1.3"/>
<polygon points="1632.6,996.72 1646.6,996.72 1639.6,1008.2" fill="#D800C4"/>
<text x="1681.8" y="1011" font-size="31.4" text-anchor="start" fill="#000" font-family="Liberation Serif">Adhesion</text>
<text x="2014.8" y="968" font-size="28.1" text-anchor="start" fill="#000" font-family="Liberation Serif">After ripening</text>
<text transform="translate(1231.5,1405.93) rotate(-90) scale(0.9385,1)" x="0" y="0" font-family="Liberation Serif" font-size="33.5" fill="#000">Texture properties</text>
<text transform="translate(1230.2,1170.48) rotate(-90) scale(1.0241,1)" x="0" y="0" font-family="Liberation Serif" font-size="26.4" fill="#000">(g)</text>
<text transform="translate(2276.6,1372.91) rotate(-90) scale(0.9427,1)" x="0" y="0" font-family="Liberation Serif" font-size="33.4" fill="#000">Viscosity</text>
<text transform="translate(2274.7,1248.2) rotate(-90) scale(1.0662,1)" x="0" y="0" font-family="Liberation Serif" font-size="25.7" fill="#000">(mPa·s)</text>
<text transform="translate(2354,1355.03) rotate(-90) scale(0.9270,1)" x="0" y="0" font-family="Liberation Serif" font-size="33.4" fill="#000">Elasticity</text>
<text transform="translate(2355.4,1235.58) rotate(-90) scale(1.0499,1)" x="0" y="0" font-family="Liberation Serif" font-size="25.8" fill="#000">(Pa)</text>
<text x="1369.6" y="1707.6" font-size="31.35" fill="#000" font-family="Liberation Serif">NS-XOS-surimi with diffferent Ca<tspan font-size="17" dy="-15.5" letter-spacing="1">2+</tspan><tspan dy="15.5"> contents (mM·kg</tspan><tspan font-size="17" dy="-15.5">-1</tspan><tspan dy="15.5" dx="2">)</tspan></text>
<text x="1784" y="1790.4" font-size="43.8" text-anchor="middle" fill="#000" font-family="Liberation Serif">(d)</text>
</svg></body></html>
